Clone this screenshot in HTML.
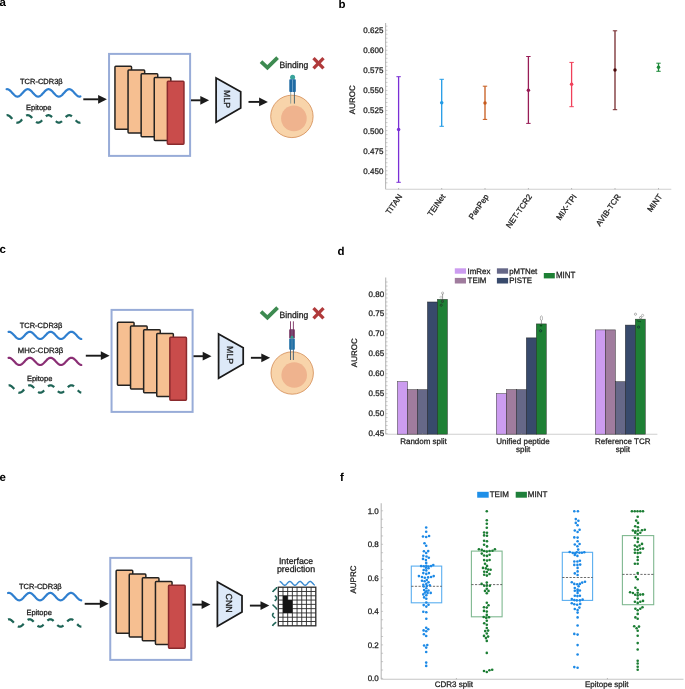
<!DOCTYPE html>
<html><head><meta charset="utf-8"><style>
html,body{margin:0;padding:0;background:#fff;width:685px;height:689px;overflow:hidden}
svg{display:block;font-family:"Liberation Sans", sans-serif;will-change:transform}
</style></head><body>
<svg width="685" height="689" viewBox="0 0 685 689" font-family='"Liberation Sans", sans-serif' text-rendering="geometricPrecision">
<rect width="685" height="689" fill="#ffffff"/>
<text x="-0.6" y="5.8" font-size="11.5" text-anchor="start" font-weight="bold" fill="#000" >a</text>
<text x="338.4" y="8.1" font-size="11.5" text-anchor="start" font-weight="bold" fill="#000" >b</text>
<text x="-0.6" y="252.9" font-size="11.5" text-anchor="start" font-weight="bold" fill="#000" >c</text>
<text x="337.6" y="255.1" font-size="11.5" text-anchor="start" font-weight="bold" fill="#000" >d</text>
<text x="-0.6" y="480.5" font-size="11.5" text-anchor="start" font-weight="bold" fill="#000" >e</text>
<text x="339.9" y="480.5" font-size="11.5" text-anchor="start" font-weight="bold" fill="#000" >f</text>
<text x="20" y="84.2" font-size="7.5" text-anchor="start" font-weight="normal" fill="#1a1a1a" stroke="#1a1a1a" stroke-width="0.28" >TCR-CDR3β</text>
<path d="M6.6,89.24 L6.85,89.21 L7.1,89.2 L7.35,89.21 L7.6,89.24 L7.85,89.29 L8.1,89.37 L8.35,89.46 L8.59,89.57 L8.84,89.71 L9.09,89.86 L9.34,90.02 L9.59,90.21 L9.84,90.41 L10.09,90.62 L10.34,90.85 L10.59,91.09 L10.84,91.34 L11.09,91.6 L11.34,91.86 L11.59,92.13 L11.84,92.41 L12.09,92.69 L12.33,92.97 L12.58,93.25 L12.83,93.52 L13.08,93.8 L13.33,94.07 L13.58,94.33 L13.83,94.58 L14.08,94.83 L14.33,95.06 L14.58,95.28 L14.83,95.49 L15.08,95.68 L15.33,95.86 L15.58,96.02 L15.83,96.16 L16.07,96.28 L16.32,96.39 L16.57,96.47 L16.82,96.53 L17.07,96.58 L17.32,96.6 L17.57,96.6 L17.82,96.58 L18.07,96.53 L18.32,96.47 L18.57,96.39 L18.82,96.29 L19.07,96.16 L19.32,96.02 L19.56,95.86 L19.81,95.69 L20.06,95.5 L20.31,95.29 L20.56,95.07 L20.81,94.84 L21.06,94.59 L21.31,94.34 L21.56,94.08 L21.81,93.81 L22.06,93.53 L22.31,93.26 L22.56,92.98 L22.81,92.7 L23.06,92.42 L23.3,92.14 L23.55,91.87 L23.8,91.6 L24.05,91.35 L24.3,91.1 L24.55,90.86 L24.8,90.63 L25.05,90.42 L25.3,90.22 L25.55,90.03 L25.8,89.86 L26.05,89.71 L26.3,89.58 L26.55,89.46 L26.8,89.37 L27.04,89.3 L27.29,89.24 L27.54,89.21 L27.79,89.2 L28.04,89.21 L28.29,89.24 L28.54,89.29 L28.79,89.37 L29.04,89.46 L29.29,89.57 L29.54,89.7 L29.79,89.85 L30.04,90.02 L30.29,90.2 L30.54,90.4 L30.78,90.62 L31.03,90.84 L31.28,91.08 L31.53,91.33 L31.78,91.59 L32.03,91.85 L32.28,92.13 L32.53,92.4 L32.78,92.68 L33.03,92.96 L33.28,93.24 L33.53,93.52 L33.78,93.79 L34.03,94.06 L34.28,94.32 L34.52,94.58 L34.77,94.82 L35.02,95.05 L35.27,95.28 L35.52,95.48 L35.77,95.68 L36.02,95.85 L36.27,96.01 L36.52,96.16 L36.77,96.28 L37.02,96.38 L37.27,96.47 L37.52,96.53 L37.77,96.57 L38.01,96.6 L38.26,96.6 L38.51,96.58 L38.76,96.54 L39.01,96.47 L39.26,96.39 L39.51,96.29 L39.76,96.17 L40.01,96.03 L40.26,95.87 L40.51,95.69 L40.76,95.5 L41.01,95.29 L41.26,95.07 L41.51,94.84 L41.75,94.6 L42,94.34 L42.25,94.08 L42.5,93.81 L42.75,93.54 L43,93.26 L43.25,92.98 L43.5,92.7 L43.75,92.42 L44,92.15 L44.25,91.88 L44.5,91.61 L44.75,91.35 L45,91.1 L45.25,90.86 L45.49,90.64 L45.74,90.42 L45.99,90.22 L46.24,90.04 L46.49,89.87 L46.74,89.71 L46.99,89.58 L47.24,89.47 L47.49,89.37 L47.74,89.3 L47.99,89.24 L48.24,89.21 L48.49,89.2 L48.74,89.21 L48.99,89.24 L49.23,89.29 L49.48,89.36 L49.73,89.46 L49.98,89.57 L50.23,89.7 L50.48,89.85 L50.73,90.02 L50.98,90.2 L51.23,90.4 L51.48,90.61 L51.73,90.84 L51.98,91.08 L52.23,91.32 L52.48,91.58 L52.73,91.85 L52.97,92.12 L53.22,92.39 L53.47,92.67 L53.72,92.95 L53.97,93.23 L54.22,93.51 L54.47,93.78 L54.72,94.05 L54.97,94.32 L55.22,94.57 L55.47,94.82 L55.72,95.05 L55.97,95.27 L56.22,95.48 L56.46,95.67 L56.71,95.85 L56.96,96.01 L57.21,96.15 L57.46,96.28 L57.71,96.38 L57.96,96.47 L58.21,96.53 L58.46,96.57 L58.71,96.6 L58.96,96.6 L59.21,96.58 L59.46,96.54 L59.71,96.48 L59.96,96.39 L60.2,96.29 L60.45,96.17 L60.7,96.03 L60.95,95.87 L61.2,95.7 L61.45,95.51 L61.7,95.3 L61.95,95.08 L62.2,94.85 L62.45,94.6 L62.7,94.35 L62.95,94.09 L63.2,93.82 L63.45,93.55 L63.7,93.27 L63.94,92.99 L64.19,92.71 L64.44,92.43 L64.69,92.16 L64.94,91.88 L65.19,91.62 L65.44,91.36 L65.69,91.11 L65.94,90.87 L66.19,90.64 L66.44,90.43 L66.69,90.23 L66.94,90.04 L67.19,89.87 L67.44,89.72 L67.68,89.58 L67.93,89.47 L68.18,89.37 L68.43,89.3 L68.68,89.25 L68.93,89.21 L69.18,89.2 L69.43,89.21 L69.68,89.24 L69.93,89.29 L70.18,89.36 L70.43,89.45 L70.68,89.57 L70.93,89.7 L71.18,89.85 L71.42,90.01 L71.67,90.19 L71.92,90.39 L72.17,90.61 L72.42,90.83 L72.67,91.07 L72.92,91.32 L73.17,91.58 L73.42,91.84 L73.67,92.11 L73.92,92.39 L74.17,92.67 L74.42,92.95 L74.67,93.23 L74.91,93.5 L75.16,93.78 L75.41,94.05 L75.66,94.31 L75.91,94.56 L76.16,94.81 L76.41,95.04 L76.66,95.27 L76.91,95.47 L77.16,95.67 L77.41,95.85 L77.66,96.01 L77.91,96.15 L78.16,96.27 L78.41,96.38 L78.65,96.46 L78.9,96.53 L79.15,96.57 L79.4,96.6 L79.65,96.6 L79.9,96.58 L80.15,96.54 L80.4,96.48" fill="none" stroke="#2f7fcf" stroke-width="2.2" stroke-linecap="round"/>
<text x="26" y="110.1" font-size="7.5" text-anchor="start" font-weight="normal" fill="#1a1a1a" stroke="#1a1a1a" stroke-width="0.28" >Epitope</text>
<path d="M6.6,115.24 L6.85,115.21 L7.1,115.2 L7.35,115.21 L7.6,115.24 L7.85,115.29 L8.1,115.37 L8.35,115.46 L8.59,115.57 L8.84,115.71 L9.09,115.86 L9.34,116.02 L9.59,116.21 L9.84,116.41 L10.09,116.62 L10.34,116.85 L10.59,117.09 L10.84,117.34 L11.09,117.6 L11.34,117.86 L11.59,118.13 L11.84,118.41 L12.09,118.69 L12.33,118.97 L12.58,119.25 L12.83,119.52 L13.08,119.8 L13.33,120.07 L13.58,120.33 L13.83,120.58 L14.08,120.83 L14.33,121.06 L14.58,121.28 L14.83,121.49 L15.08,121.68 L15.33,121.86 L15.58,122.02 L15.83,122.16 L16.07,122.28 L16.32,122.39 L16.57,122.47 L16.82,122.53 L17.07,122.58 L17.32,122.6 L17.57,122.6 L17.82,122.58 L18.07,122.53 L18.32,122.47 L18.57,122.39 L18.82,122.29 L19.07,122.16 L19.32,122.02 L19.56,121.86 L19.81,121.69 L20.06,121.5 L20.31,121.29 L20.56,121.07 L20.81,120.84 L21.06,120.59 L21.31,120.34 L21.56,120.08 L21.81,119.81 L22.06,119.53 L22.31,119.26 L22.56,118.98 L22.81,118.7 L23.06,118.42 L23.3,118.14 L23.55,117.87 L23.8,117.6 L24.05,117.35 L24.3,117.1 L24.55,116.86 L24.8,116.63 L25.05,116.42 L25.3,116.22 L25.55,116.03 L25.8,115.86 L26.05,115.71 L26.3,115.58 L26.55,115.46 L26.8,115.37 L27.04,115.3 L27.29,115.24 L27.54,115.21 L27.79,115.2 L28.04,115.21 L28.29,115.24 L28.54,115.29 L28.79,115.37 L29.04,115.46 L29.29,115.57 L29.54,115.7 L29.79,115.85 L30.04,116.02 L30.29,116.2 L30.54,116.4 L30.78,116.62 L31.03,116.84 L31.28,117.08 L31.53,117.33 L31.78,117.59 L32.03,117.85 L32.28,118.13 L32.53,118.4 L32.78,118.68 L33.03,118.96 L33.28,119.24 L33.53,119.52 L33.78,119.79 L34.03,120.06 L34.28,120.32 L34.52,120.58 L34.77,120.82 L35.02,121.05 L35.27,121.28 L35.52,121.48 L35.77,121.68 L36.02,121.85 L36.27,122.01 L36.52,122.16 L36.77,122.28 L37.02,122.38 L37.27,122.47 L37.52,122.53 L37.77,122.57 L38.01,122.6 L38.26,122.6 L38.51,122.58 L38.76,122.54 L39.01,122.47 L39.26,122.39 L39.51,122.29 L39.76,122.17 L40.01,122.03 L40.26,121.87 L40.51,121.69 L40.76,121.5 L41.01,121.29 L41.26,121.07 L41.51,120.84 L41.75,120.6 L42,120.34 L42.25,120.08 L42.5,119.81 L42.75,119.54 L43,119.26 L43.25,118.98 L43.5,118.7 L43.75,118.42 L44,118.15 L44.25,117.88 L44.5,117.61 L44.75,117.35 L45,117.1 L45.25,116.86 L45.49,116.64 L45.74,116.42 L45.99,116.22 L46.24,116.04 L46.49,115.87 L46.74,115.71 L46.99,115.58 L47.24,115.47 L47.49,115.37 L47.74,115.3 L47.99,115.24 L48.24,115.21 L48.49,115.2 L48.74,115.21 L48.99,115.24 L49.23,115.29 L49.48,115.36 L49.73,115.46 L49.98,115.57 L50.23,115.7 L50.48,115.85 L50.73,116.02 L50.98,116.2 L51.23,116.4 L51.48,116.61 L51.73,116.84 L51.98,117.08 L52.23,117.32 L52.48,117.58 L52.73,117.85 L52.97,118.12 L53.22,118.39 L53.47,118.67 L53.72,118.95 L53.97,119.23 L54.22,119.51 L54.47,119.78 L54.72,120.05 L54.97,120.32 L55.22,120.57 L55.47,120.82 L55.72,121.05 L55.97,121.27 L56.22,121.48 L56.46,121.67 L56.71,121.85 L56.96,122.01 L57.21,122.15 L57.46,122.28 L57.71,122.38 L57.96,122.47 L58.21,122.53 L58.46,122.57 L58.71,122.6 L58.96,122.6 L59.21,122.58 L59.46,122.54 L59.71,122.48 L59.96,122.39 L60.2,122.29 L60.45,122.17 L60.7,122.03 L60.95,121.87 L61.2,121.7 L61.45,121.51 L61.7,121.3 L61.95,121.08 L62.2,120.85 L62.45,120.6 L62.7,120.35 L62.95,120.09 L63.2,119.82 L63.45,119.55 L63.7,119.27 L63.94,118.99 L64.19,118.71 L64.44,118.43 L64.69,118.16 L64.94,117.88 L65.19,117.62 L65.44,117.36 L65.69,117.11 L65.94,116.87 L66.19,116.64 L66.44,116.43 L66.69,116.23 L66.94,116.04 L67.19,115.87 L67.44,115.72 L67.68,115.58 L67.93,115.47 L68.18,115.37 L68.43,115.3 L68.68,115.25 L68.93,115.21 L69.18,115.2 L69.43,115.21 L69.68,115.24 L69.93,115.29 L70.18,115.36 L70.43,115.45 L70.68,115.57 L70.93,115.7 L71.18,115.85 L71.42,116.01 L71.67,116.19 L71.92,116.39 L72.17,116.61 L72.42,116.83 L72.67,117.07 L72.92,117.32 L73.17,117.58 L73.42,117.84 L73.67,118.11 L73.92,118.39 L74.17,118.67 L74.42,118.95 L74.67,119.23 L74.91,119.5 L75.16,119.78 L75.41,120.05 L75.66,120.31 L75.91,120.56 L76.16,120.81 L76.41,121.04 L76.66,121.27 L76.91,121.47 L77.16,121.67 L77.41,121.85 L77.66,122.01 L77.91,122.15 L78.16,122.27 L78.41,122.38 L78.65,122.46 L78.9,122.53 L79.15,122.57 L79.4,122.6 L79.65,122.6 L79.9,122.58 L80.15,122.54 L80.4,122.48" fill="none" stroke="#1e6456" stroke-width="2.25" stroke-dasharray="7 5.5" stroke-linecap="butt"/>
<line x1="83.3" y1="99.3" x2="98.6" y2="99.3" stroke="#1a1a1a" stroke-width="1.9"/>
<polygon points="98.1,94.9 106.9,99.3 98.1,103.7" fill="#1a1a1a"/>
<rect x="109.05" y="53.9" width="81.05" height="102" fill="none" stroke="#98acd8" stroke-width="2"/>
<rect x="114.95" y="66.35" width="16.6" height="62.8" rx="0.8" fill="#f6bf91" stroke="#242220" stroke-width="1.5"/>
<rect x="128.05" y="70.1" width="16.6" height="62.8" rx="0.8" fill="#f6bf91" stroke="#242220" stroke-width="1.5"/>
<rect x="141.15" y="73.85" width="16.6" height="62.8" rx="0.8" fill="#f6bf91" stroke="#242220" stroke-width="1.5"/>
<rect x="154.25" y="77.6" width="16.6" height="62.8" rx="0.8" fill="#f6bf91" stroke="#242220" stroke-width="1.5"/>
<rect x="167.35" y="81.35" width="16.6" height="62.8" rx="0.8" fill="#c94c4b" stroke="#8a2a2d" stroke-width="1.5"/>
<line x1="191" y1="100.3" x2="200.8" y2="100.3" stroke="#1a1a1a" stroke-width="1.9"/>
<polygon points="200.3,95.9 209.1,100.3 200.3,104.7" fill="#1a1a1a"/>
<polygon points="216.1,78 240.7,91.8 240.7,107.9 216.1,122.2" fill="#dde9f8" stroke="#1a1a1a" stroke-width="1.75" stroke-linejoin="miter"/>
<text transform="translate(227.5,99.1) rotate(90)" x="0" y="3.2" font-size="8.8" text-anchor="middle" fill="#1a1a1a" stroke="#1a1a1a" stroke-width="0.28">MLP</text>
<line x1="248.5" y1="101.9" x2="259.6" y2="101.9" stroke="#1a1a1a" stroke-width="1.9"/>
<polygon points="259.1,97.5 267.9,101.9 259.1,106.3" fill="#1a1a1a"/>
<circle cx="291.9" cy="116.4" r="21.2" fill="#f8d4aa" stroke="#d38a52" stroke-width="0.8"/>
<circle cx="293.9" cy="118.4" r="12.8" fill="#efb38e"/>
<line x1="290.7" y1="90" x2="290.7" y2="103.6" stroke="#8a9c94" stroke-width="0.9"/>
<line x1="294.4" y1="90" x2="294.4" y2="103.6" stroke="#385868" stroke-width="0.9"/>
<circle cx="292.6" cy="77.2" r="2.5" fill="#3aa39b"/>
<rect x="289.3" y="79.3" width="6.5" height="12.7" rx="0.8" fill="#1f6aa3"/>
<line x1="292.55" y1="79.5" x2="292.55" y2="92" stroke="#8fb8d8" stroke-width="0.7"/>
<polyline points="261.0,61.7 267.4,67.6 277.6,57.7" fill="none" stroke="#3d8a50" stroke-width="3.8" stroke-linecap="butt" stroke-linejoin="miter"/>
<text x="279.6" y="67.6" font-size="9" fill="#1a1a1a" stroke="#1a1a1a" stroke-width="0.28" textLength="28.6" lengthAdjust="spacingAndGlyphs">Binding</text>
<g stroke="#b03a3b" stroke-width="3.3"><line x1="313.5" y1="58.2" x2="323.5" y2="68.4"/><line x1="323.5" y1="58.2" x2="313.5" y2="68.4"/></g>
<text x="19.7" y="328.1" font-size="7.5" text-anchor="start" font-weight="normal" fill="#1a1a1a" stroke="#1a1a1a" stroke-width="0.28" >TCR-CDR3β</text>
<path d="M8.6,331.83 L8.85,331.8 L9.1,331.8 L9.35,331.82 L9.6,331.86 L9.85,331.92 L10.1,332 L10.35,332.09 L10.6,332.21 L10.85,332.35 L11.1,332.5 L11.35,332.67 L11.6,332.85 L11.85,333.05 L12.1,333.26 L12.35,333.49 L12.6,333.72 L12.85,333.97 L13.1,334.22 L13.35,334.48 L13.6,334.75 L13.85,335.02 L14.1,335.29 L14.35,335.56 L14.6,335.83 L14.85,336.1 L15.1,336.36 L15.35,336.62 L15.6,336.87 L15.85,337.12 L16.09,337.35 L16.34,337.57 L16.59,337.78 L16.84,337.98 L17.09,338.16 L17.34,338.33 L17.59,338.48 L17.84,338.61 L18.09,338.72 L18.34,338.82 L18.59,338.89 L18.84,338.95 L19.09,338.98 L19.34,339 L19.59,338.99 L19.84,338.97 L20.09,338.92 L20.34,338.86 L20.59,338.77 L20.84,338.66 L21.09,338.54 L21.34,338.4 L21.59,338.24 L21.84,338.06 L22.09,337.87 L22.34,337.67 L22.59,337.45 L22.84,337.22 L23.09,336.99 L23.34,336.74 L23.59,336.48 L23.84,336.22 L24.09,335.95 L24.34,335.68 L24.59,335.41 L24.84,335.14 L25.09,334.87 L25.34,334.6 L25.59,334.34 L25.84,334.08 L26.09,333.84 L26.34,333.6 L26.59,333.37 L26.84,333.15 L27.09,332.94 L27.34,332.75 L27.59,332.57 L27.84,332.41 L28.09,332.27 L28.34,332.15 L28.59,332.04 L28.84,331.95 L29.09,331.88 L29.34,331.84 L29.59,331.81 L29.84,331.8 L30.09,331.81 L30.34,331.85 L30.58,331.9 L30.83,331.97 L31.08,332.07 L31.33,332.18 L31.58,332.31 L31.83,332.46 L32.08,332.62 L32.33,332.8 L32.58,333 L32.83,333.21 L33.08,333.43 L33.33,333.66 L33.58,333.91 L33.83,334.16 L34.08,334.41 L34.33,334.68 L34.58,334.95 L34.83,335.22 L35.08,335.49 L35.33,335.76 L35.58,336.03 L35.83,336.29 L36.08,336.55 L36.33,336.81 L36.58,337.05 L36.83,337.29 L37.08,337.52 L37.33,337.73 L37.58,337.93 L37.83,338.12 L38.08,338.29 L38.33,338.44 L38.58,338.58 L38.83,338.7 L39.08,338.8 L39.33,338.88 L39.58,338.94 L39.83,338.98 L40.08,339 L40.33,339 L40.58,338.98 L40.83,338.94 L41.08,338.87 L41.33,338.79 L41.58,338.69 L41.83,338.57 L42.08,338.44 L42.33,338.28 L42.58,338.11 L42.83,337.93 L43.08,337.72 L43.33,337.51 L43.58,337.28 L43.83,337.05 L44.08,336.8 L44.33,336.55 L44.58,336.29 L44.83,336.02 L45.07,335.75 L45.32,335.48 L45.57,335.21 L45.82,334.94 L46.07,334.67 L46.32,334.41 L46.57,334.15 L46.82,333.9 L47.07,333.66 L47.32,333.42 L47.57,333.2 L47.82,332.99 L48.07,332.8 L48.32,332.62 L48.57,332.45 L48.82,332.31 L49.07,332.18 L49.32,332.06 L49.57,331.97 L49.82,331.9 L50.07,331.85 L50.32,331.81 L50.57,331.8 L50.82,331.81 L51.07,331.84 L51.32,331.88 L51.57,331.95 L51.82,332.04 L52.07,332.15 L52.32,332.28 L52.57,332.42 L52.82,332.58 L53.07,332.76 L53.32,332.95 L53.57,333.15 L53.82,333.37 L54.07,333.6 L54.32,333.84 L54.57,334.09 L54.82,334.35 L55.07,334.61 L55.32,334.88 L55.57,335.15 L55.82,335.42 L56.07,335.69 L56.32,335.96 L56.57,336.23 L56.82,336.49 L57.07,336.74 L57.32,336.99 L57.57,337.23 L57.82,337.46 L58.07,337.68 L58.32,337.88 L58.57,338.07 L58.82,338.24 L59.07,338.4 L59.32,338.54 L59.56,338.67 L59.81,338.77 L60.06,338.86 L60.31,338.92 L60.56,338.97 L60.81,338.99 L61.06,339 L61.31,338.98 L61.56,338.95 L61.81,338.89 L62.06,338.82 L62.31,338.72 L62.56,338.61 L62.81,338.47 L63.06,338.32 L63.31,338.16 L63.56,337.97 L63.81,337.78 L64.06,337.57 L64.31,337.34 L64.56,337.11 L64.81,336.87 L65.06,336.61 L65.31,336.36 L65.56,336.09 L65.81,335.82 L66.06,335.55 L66.31,335.28 L66.56,335.01 L66.81,334.74 L67.06,334.48 L67.31,334.22 L67.56,333.96 L67.81,333.72 L68.06,333.48 L68.31,333.26 L68.56,333.05 L68.81,332.85 L69.06,332.66 L69.31,332.5 L69.56,332.34 L69.81,332.21 L70.06,332.09 L70.31,331.99 L70.56,331.92 L70.81,331.86 L71.06,331.82 L71.31,331.8 L71.56,331.8 L71.81,331.83 L72.06,331.87 L72.31,331.93 L72.56,332.02 L72.81,332.12 L73.06,332.24 L73.31,332.38 L73.56,332.54 L73.81,332.71 L74.05,332.9 L74.3,333.1 L74.55,333.31 L74.8,333.54 L75.05,333.78 L75.3,334.03 L75.55,334.28 L75.8,334.54 L76.05,334.81 L76.3,335.08 L76.55,335.35 L76.8,335.62 L77.05,335.89 L77.3,336.16 L77.55,336.42 L77.8,336.68 L78.05,336.93 L78.3,337.17 L78.55,337.4 L78.8,337.62 L79.05,337.83 L79.3,338.02 L79.55,338.2 L79.8,338.36 L80.05,338.51 L80.3,338.64 L80.55,338.75 L80.8,338.84 L81.05,338.91 L81.3,338.96" fill="none" stroke="#2f7fcf" stroke-width="2.2" stroke-linecap="round"/>
<text x="17.8" y="353.4" font-size="7.6" text-anchor="start" font-weight="normal" fill="#1a1a1a" stroke="#1a1a1a" stroke-width="0.28" textLength="45.4" lengthAdjust="spacingAndGlyphs">MHC-CDR3β</text>
<path d="M8.6,357.83 L8.85,357.8 L9.1,357.8 L9.35,357.82 L9.6,357.86 L9.85,357.92 L10.1,358 L10.35,358.09 L10.6,358.21 L10.85,358.35 L11.1,358.5 L11.35,358.67 L11.6,358.85 L11.85,359.05 L12.1,359.26 L12.35,359.49 L12.6,359.72 L12.85,359.97 L13.1,360.22 L13.35,360.48 L13.6,360.75 L13.85,361.02 L14.1,361.29 L14.35,361.56 L14.6,361.83 L14.85,362.1 L15.1,362.36 L15.35,362.62 L15.6,362.87 L15.85,363.12 L16.09,363.35 L16.34,363.57 L16.59,363.78 L16.84,363.98 L17.09,364.16 L17.34,364.33 L17.59,364.48 L17.84,364.61 L18.09,364.72 L18.34,364.82 L18.59,364.89 L18.84,364.95 L19.09,364.98 L19.34,365 L19.59,364.99 L19.84,364.97 L20.09,364.92 L20.34,364.86 L20.59,364.77 L20.84,364.66 L21.09,364.54 L21.34,364.4 L21.59,364.24 L21.84,364.06 L22.09,363.87 L22.34,363.67 L22.59,363.45 L22.84,363.22 L23.09,362.99 L23.34,362.74 L23.59,362.48 L23.84,362.22 L24.09,361.95 L24.34,361.68 L24.59,361.41 L24.84,361.14 L25.09,360.87 L25.34,360.6 L25.59,360.34 L25.84,360.08 L26.09,359.84 L26.34,359.6 L26.59,359.37 L26.84,359.15 L27.09,358.94 L27.34,358.75 L27.59,358.57 L27.84,358.41 L28.09,358.27 L28.34,358.15 L28.59,358.04 L28.84,357.95 L29.09,357.88 L29.34,357.84 L29.59,357.81 L29.84,357.8 L30.09,357.81 L30.34,357.85 L30.58,357.9 L30.83,357.97 L31.08,358.07 L31.33,358.18 L31.58,358.31 L31.83,358.46 L32.08,358.62 L32.33,358.8 L32.58,359 L32.83,359.21 L33.08,359.43 L33.33,359.66 L33.58,359.91 L33.83,360.16 L34.08,360.41 L34.33,360.68 L34.58,360.95 L34.83,361.22 L35.08,361.49 L35.33,361.76 L35.58,362.03 L35.83,362.29 L36.08,362.55 L36.33,362.81 L36.58,363.05 L36.83,363.29 L37.08,363.52 L37.33,363.73 L37.58,363.93 L37.83,364.12 L38.08,364.29 L38.33,364.44 L38.58,364.58 L38.83,364.7 L39.08,364.8 L39.33,364.88 L39.58,364.94 L39.83,364.98 L40.08,365 L40.33,365 L40.58,364.98 L40.83,364.94 L41.08,364.87 L41.33,364.79 L41.58,364.69 L41.83,364.57 L42.08,364.44 L42.33,364.28 L42.58,364.11 L42.83,363.93 L43.08,363.72 L43.33,363.51 L43.58,363.28 L43.83,363.05 L44.08,362.8 L44.33,362.55 L44.58,362.29 L44.83,362.02 L45.07,361.75 L45.32,361.48 L45.57,361.21 L45.82,360.94 L46.07,360.67 L46.32,360.41 L46.57,360.15 L46.82,359.9 L47.07,359.66 L47.32,359.42 L47.57,359.2 L47.82,358.99 L48.07,358.8 L48.32,358.62 L48.57,358.45 L48.82,358.31 L49.07,358.18 L49.32,358.06 L49.57,357.97 L49.82,357.9 L50.07,357.85 L50.32,357.81 L50.57,357.8 L50.82,357.81 L51.07,357.84 L51.32,357.88 L51.57,357.95 L51.82,358.04 L52.07,358.15 L52.32,358.28 L52.57,358.42 L52.82,358.58 L53.07,358.76 L53.32,358.95 L53.57,359.15 L53.82,359.37 L54.07,359.6 L54.32,359.84 L54.57,360.09 L54.82,360.35 L55.07,360.61 L55.32,360.88 L55.57,361.15 L55.82,361.42 L56.07,361.69 L56.32,361.96 L56.57,362.23 L56.82,362.49 L57.07,362.74 L57.32,362.99 L57.57,363.23 L57.82,363.46 L58.07,363.68 L58.32,363.88 L58.57,364.07 L58.82,364.24 L59.07,364.4 L59.32,364.54 L59.56,364.67 L59.81,364.77 L60.06,364.86 L60.31,364.92 L60.56,364.97 L60.81,364.99 L61.06,365 L61.31,364.98 L61.56,364.95 L61.81,364.89 L62.06,364.82 L62.31,364.72 L62.56,364.61 L62.81,364.47 L63.06,364.32 L63.31,364.16 L63.56,363.97 L63.81,363.78 L64.06,363.57 L64.31,363.34 L64.56,363.11 L64.81,362.87 L65.06,362.61 L65.31,362.36 L65.56,362.09 L65.81,361.82 L66.06,361.55 L66.31,361.28 L66.56,361.01 L66.81,360.74 L67.06,360.48 L67.31,360.22 L67.56,359.96 L67.81,359.72 L68.06,359.48 L68.31,359.26 L68.56,359.05 L68.81,358.85 L69.06,358.66 L69.31,358.5 L69.56,358.34 L69.81,358.21 L70.06,358.09 L70.31,357.99 L70.56,357.92 L70.81,357.86 L71.06,357.82 L71.31,357.8 L71.56,357.8 L71.81,357.83 L72.06,357.87 L72.31,357.93 L72.56,358.02 L72.81,358.12 L73.06,358.24 L73.31,358.38 L73.56,358.54 L73.81,358.71 L74.05,358.9 L74.3,359.1 L74.55,359.31 L74.8,359.54 L75.05,359.78 L75.3,360.03 L75.55,360.28 L75.8,360.54 L76.05,360.81 L76.3,361.08 L76.55,361.35 L76.8,361.62 L77.05,361.89 L77.3,362.16 L77.55,362.42 L77.8,362.68 L78.05,362.93 L78.3,363.17 L78.55,363.4 L78.8,363.62 L79.05,363.83 L79.3,364.02 L79.55,364.2 L79.8,364.36 L80.05,364.51 L80.3,364.64 L80.55,364.75 L80.8,364.84 L81.05,364.91 L81.3,364.96" fill="none" stroke="#8a2e74" stroke-width="2.2" stroke-linecap="round"/>
<text x="26.9" y="380.7" font-size="7.5" text-anchor="start" font-weight="normal" fill="#1a1a1a" stroke="#1a1a1a" stroke-width="0.28" >Epitope</text>
<path d="M8.6,385.33 L8.85,385.3 L9.1,385.3 L9.35,385.32 L9.6,385.36 L9.85,385.42 L10.1,385.5 L10.35,385.6 L10.6,385.72 L10.85,385.86 L11.1,386.02 L11.35,386.19 L11.6,386.38 L11.85,386.59 L12.1,386.8 L12.35,387.04 L12.6,387.28 L12.85,387.53 L13.1,387.79 L13.35,388.06 L13.6,388.33 L13.85,388.61 L14.1,388.88 L14.35,389.16 L14.6,389.44 L14.85,389.72 L15.1,389.99 L15.35,390.25 L15.6,390.51 L15.85,390.76 L16.09,391 L16.34,391.23 L16.59,391.45 L16.84,391.65 L17.09,391.84 L17.34,392.01 L17.59,392.16 L17.84,392.3 L18.09,392.42 L18.34,392.51 L18.59,392.59 L18.84,392.65 L19.09,392.68 L19.34,392.7 L19.59,392.69 L19.84,392.67 L20.09,392.62 L20.34,392.55 L20.59,392.46 L20.84,392.35 L21.09,392.23 L21.34,392.08 L21.59,391.92 L21.84,391.74 L22.09,391.54 L22.34,391.33 L22.59,391.11 L22.84,390.88 L23.09,390.63 L23.34,390.37 L23.59,390.11 L23.84,389.84 L24.09,389.57 L24.34,389.29 L24.59,389.01 L24.84,388.73 L25.09,388.46 L25.34,388.18 L25.59,387.91 L25.84,387.65 L26.09,387.39 L26.34,387.15 L26.59,386.91 L26.84,386.69 L27.09,386.47 L27.34,386.28 L27.59,386.1 L27.84,385.93 L28.09,385.78 L28.34,385.66 L28.59,385.55 L28.84,385.46 L29.09,385.39 L29.34,385.34 L29.59,385.31 L29.84,385.3 L30.09,385.31 L30.34,385.35 L30.58,385.4 L30.83,385.48 L31.08,385.58 L31.33,385.69 L31.58,385.82 L31.83,385.98 L32.08,386.15 L32.33,386.33 L32.58,386.53 L32.83,386.75 L33.08,386.98 L33.33,387.21 L33.58,387.46 L33.83,387.72 L34.08,387.99 L34.33,388.26 L34.58,388.53 L34.83,388.81 L35.08,389.09 L35.33,389.37 L35.58,389.65 L35.83,389.92 L36.08,390.19 L36.33,390.45 L36.58,390.7 L36.83,390.94 L37.08,391.18 L37.33,391.39 L37.58,391.6 L37.83,391.79 L38.08,391.97 L38.33,392.12 L38.58,392.27 L38.83,392.39 L39.08,392.49 L39.33,392.57 L39.58,392.64 L39.83,392.68 L40.08,392.7 L40.33,392.7 L40.58,392.68 L40.83,392.63 L41.08,392.57 L41.33,392.49 L41.58,392.38 L41.83,392.26 L42.08,392.12 L42.33,391.96 L42.58,391.79 L42.83,391.6 L43.08,391.39 L43.33,391.17 L43.58,390.94 L43.83,390.69 L44.08,390.44 L44.33,390.18 L44.58,389.91 L44.83,389.64 L45.07,389.36 L45.32,389.08 L45.57,388.8 L45.82,388.53 L46.07,388.25 L46.32,387.98 L46.57,387.72 L46.82,387.46 L47.07,387.21 L47.32,386.97 L47.57,386.74 L47.82,386.53 L48.07,386.33 L48.32,386.14 L48.57,385.97 L48.82,385.82 L49.07,385.69 L49.32,385.57 L49.57,385.48 L49.82,385.4 L50.07,385.35 L50.32,385.31 L50.57,385.3 L50.82,385.31 L51.07,385.34 L51.32,385.39 L51.57,385.46 L51.82,385.55 L52.07,385.66 L52.32,385.79 L52.57,385.94 L52.82,386.1 L53.07,386.28 L53.32,386.48 L53.57,386.69 L53.82,386.92 L54.07,387.15 L54.32,387.4 L54.57,387.65 L54.82,387.92 L55.07,388.19 L55.32,388.46 L55.57,388.74 L55.82,389.02 L56.07,389.3 L56.32,389.58 L56.57,389.85 L56.82,390.12 L57.07,390.38 L57.32,390.64 L57.57,390.88 L57.82,391.12 L58.07,391.34 L58.32,391.55 L58.57,391.74 L58.82,391.92 L59.07,392.09 L59.32,392.23 L59.56,392.36 L59.81,392.47 L60.06,392.55 L60.31,392.62 L60.56,392.67 L60.81,392.69 L61.06,392.7 L61.31,392.68 L61.56,392.65 L61.81,392.59 L62.06,392.51 L62.31,392.41 L62.56,392.3 L62.81,392.16 L63.06,392 L63.31,391.83 L63.56,391.65 L63.81,391.44 L64.06,391.23 L64.31,391 L64.56,390.76 L64.81,390.51 L65.06,390.25 L65.31,389.98 L65.56,389.71 L65.81,389.43 L66.06,389.16 L66.31,388.88 L66.56,388.6 L66.81,388.32 L67.06,388.05 L67.31,387.78 L67.56,387.52 L67.81,387.27 L68.06,387.03 L68.31,386.8 L68.56,386.58 L68.81,386.38 L69.06,386.19 L69.31,386.01 L69.56,385.86 L69.81,385.72 L70.06,385.6 L70.31,385.5 L70.56,385.42 L70.81,385.36 L71.06,385.32 L71.31,385.3 L71.56,385.3 L71.81,385.33 L72.06,385.37 L72.31,385.44 L72.56,385.52 L72.81,385.63 L73.06,385.75 L73.31,385.9 L73.56,386.06 L73.81,386.23 L74.05,386.43 L74.3,386.64 L74.55,386.86 L74.8,387.09 L75.05,387.33 L75.3,387.59 L75.55,387.85 L75.8,388.12 L76.05,388.39 L76.3,388.67 L76.55,388.95 L76.8,389.23 L77.05,389.5 L77.3,389.78 L77.55,390.05 L77.8,390.31 L78.05,390.57 L78.3,390.82 L78.55,391.06 L78.8,391.28 L79.05,391.5 L79.3,391.7 L79.55,391.88 L79.8,392.05 L80.05,392.2 L80.3,392.33 L80.55,392.44 L80.8,392.53 L81.05,392.61 L81.3,392.66" fill="none" stroke="#1e6456" stroke-width="2.25" stroke-dasharray="7 5.5" stroke-linecap="butt"/>
<line x1="85.8" y1="355.7" x2="101.3" y2="355.7" stroke="#1a1a1a" stroke-width="1.9"/>
<polygon points="100.8,351.3 109.6,355.7 100.8,360.1" fill="#1a1a1a"/>
<rect x="111.55" y="309.9" width="81.05" height="102" fill="none" stroke="#98acd8" stroke-width="2"/>
<rect x="117.45" y="322.35" width="16.6" height="62.8" rx="0.8" fill="#f6bf91" stroke="#242220" stroke-width="1.5"/>
<rect x="130.55" y="326.1" width="16.6" height="62.8" rx="0.8" fill="#f6bf91" stroke="#242220" stroke-width="1.5"/>
<rect x="143.65" y="329.85" width="16.6" height="62.8" rx="0.8" fill="#f6bf91" stroke="#242220" stroke-width="1.5"/>
<rect x="156.75" y="333.6" width="16.6" height="62.8" rx="0.8" fill="#f6bf91" stroke="#242220" stroke-width="1.5"/>
<rect x="169.85" y="337.35" width="16.6" height="62.8" rx="0.8" fill="#c94c4b" stroke="#8a2a2d" stroke-width="1.5"/>
<line x1="193.5" y1="356.2" x2="203.2" y2="356.2" stroke="#1a1a1a" stroke-width="1.9"/>
<polygon points="202.7,351.8 211.5,356.2 202.7,360.6" fill="#1a1a1a"/>
<polygon points="218.6,334 243.2,347.8 243.2,363.9 218.6,378.2" fill="#dde9f8" stroke="#1a1a1a" stroke-width="1.75" stroke-linejoin="miter"/>
<text transform="translate(230,355.1) rotate(90)" x="0" y="3.2" font-size="8.8" text-anchor="middle" fill="#1a1a1a" stroke="#1a1a1a" stroke-width="0.28">MLP</text>
<line x1="250.9" y1="357.8" x2="261.8" y2="357.8" stroke="#1a1a1a" stroke-width="1.9"/>
<polygon points="261.3,353.4 270.1,357.8 261.3,362.2" fill="#1a1a1a"/>
<circle cx="292.2" cy="373" r="21.2" fill="#f8d4aa" stroke="#d38a52" stroke-width="0.8"/>
<circle cx="294.2" cy="375" r="12.8" fill="#efb38e"/>
<line x1="290.5" y1="321.3" x2="290.5" y2="330" stroke="#7a3062" stroke-width="0.9"/>
<line x1="293.4" y1="321.3" x2="293.4" y2="330" stroke="#7a3062" stroke-width="0.9"/>
<line x1="290.5" y1="349" x2="290.5" y2="360" stroke="#3c5a70" stroke-width="0.9"/>
<line x1="293.4" y1="349" x2="293.4" y2="360" stroke="#3c5a70" stroke-width="0.9"/>
<rect x="289.2" y="329.2" width="5.6" height="9.3" rx="0.8" fill="#72305e"/>
<rect x="289.2" y="338.6" width="5.6" height="11.1" rx="0.8" fill="#1f6fa5"/>
<line x1="292" y1="329.5" x2="292" y2="349.5" stroke="#9ab0c8" stroke-width="0.6" stroke-opacity="0.7"/>
<circle cx="292" cy="337.2" r="1.4" fill="#2fa08f"/>
<polyline points="261.0,311.7 267.4,317.6 277.6,307.7" fill="none" stroke="#3d8a50" stroke-width="3.8" stroke-linecap="butt" stroke-linejoin="miter"/>
<text x="279.6" y="317.6" font-size="9" fill="#1a1a1a" stroke="#1a1a1a" stroke-width="0.28" textLength="28.6" lengthAdjust="spacingAndGlyphs">Binding</text>
<g stroke="#b03a3b" stroke-width="3.3"><line x1="313.5" y1="308.2" x2="323.5" y2="318.4"/><line x1="323.5" y1="308.2" x2="313.5" y2="318.4"/></g>
<text x="19" y="588.6" font-size="7.5" text-anchor="start" font-weight="normal" fill="#1a1a1a" stroke="#1a1a1a" stroke-width="0.28" >TCR-CDR3β</text>
<path d="M8,593.04 L8.25,592.97 L8.5,592.93 L8.75,592.9 L9,592.9 L9.25,592.92 L9.5,592.96 L9.75,593.02 L10,593.1 L10.25,593.21 L10.5,593.33 L10.75,593.47 L11,593.63 L11.25,593.8 L11.5,593.99 L11.75,594.2 L12,594.42 L12.25,594.65 L12.5,594.89 L12.75,595.15 L13,595.41 L13.25,595.68 L13.5,595.95 L13.75,596.23 L14,596.51 L14.25,596.79 L14.5,597.07 L14.75,597.35 L15,597.62 L15.25,597.89 L15.49,598.15 L15.74,598.4 L15.99,598.64 L16.24,598.86 L16.49,599.08 L16.74,599.28 L16.99,599.47 L17.24,599.63 L17.49,599.79 L17.74,599.92 L17.99,600.03 L18.24,600.13 L18.49,600.2 L18.74,600.26 L18.99,600.29 L19.24,600.3 L19.49,600.29 L19.74,600.26 L19.99,600.21 L20.24,600.13 L20.49,600.04 L20.74,599.93 L20.99,599.8 L21.24,599.64 L21.49,599.48 L21.74,599.29 L21.99,599.09 L22.24,598.88 L22.49,598.65 L22.74,598.41 L22.99,598.16 L23.24,597.9 L23.49,597.64 L23.74,597.36 L23.99,597.09 L24.24,596.81 L24.49,596.53 L24.74,596.25 L24.99,595.97 L25.24,595.7 L25.49,595.43 L25.74,595.16 L25.99,594.91 L26.24,594.67 L26.49,594.43 L26.74,594.21 L26.99,594 L27.24,593.81 L27.49,593.64 L27.74,593.48 L27.99,593.34 L28.24,593.21 L28.49,593.11 L28.74,593.03 L28.99,592.96 L29.24,592.92 L29.49,592.9 L29.74,592.9 L29.98,592.93 L30.23,592.97 L30.48,593.03 L30.73,593.12 L30.98,593.22 L31.23,593.35 L31.48,593.49 L31.73,593.65 L31.98,593.83 L32.23,594.02 L32.48,594.23 L32.73,594.45 L32.98,594.69 L33.23,594.93 L33.48,595.19 L33.73,595.45 L33.98,595.72 L34.23,595.99 L34.48,596.27 L34.73,596.55 L34.98,596.83 L35.23,597.11 L35.48,597.39 L35.73,597.66 L35.98,597.92 L36.23,598.18 L36.48,598.43 L36.73,598.67 L36.98,598.9 L37.23,599.11 L37.48,599.31 L37.73,599.49 L37.98,599.66 L38.23,599.81 L38.48,599.94 L38.73,600.05 L38.98,600.14 L39.23,600.21 L39.48,600.26 L39.73,600.29 L39.98,600.3 L40.23,600.29 L40.48,600.25 L40.73,600.2 L40.98,600.12 L41.23,600.03 L41.48,599.91 L41.73,599.77 L41.98,599.62 L42.23,599.45 L42.48,599.26 L42.73,599.06 L42.98,598.85 L43.23,598.62 L43.48,598.38 L43.73,598.12 L43.98,597.87 L44.23,597.6 L44.48,597.33 L44.72,597.05 L44.97,596.77 L45.22,596.49 L45.47,596.21 L45.72,595.93 L45.97,595.66 L46.22,595.39 L46.47,595.13 L46.72,594.87 L46.97,594.63 L47.22,594.4 L47.47,594.18 L47.72,593.98 L47.97,593.79 L48.22,593.61 L48.47,593.45 L48.72,593.32 L48.97,593.2 L49.22,593.1 L49.47,593.02 L49.72,592.96 L49.97,592.92 L50.22,592.9 L50.47,592.9 L50.72,592.93 L50.97,592.98 L51.22,593.04 L51.47,593.13 L51.72,593.24 L51.97,593.37 L52.22,593.51 L52.47,593.67 L52.72,593.85 L52.97,594.05 L53.22,594.26 L53.47,594.48 L53.72,594.72 L53.97,594.97 L54.22,595.22 L54.47,595.49 L54.72,595.76 L54.97,596.03 L55.22,596.31 L55.47,596.59 L55.72,596.87 L55.97,597.15 L56.22,597.43 L56.47,597.7 L56.72,597.96 L56.97,598.22 L57.22,598.47 L57.47,598.7 L57.72,598.93 L57.97,599.14 L58.22,599.34 L58.47,599.52 L58.72,599.68 L58.97,599.83 L59.22,599.95 L59.46,600.06 L59.71,600.15 L59.96,600.22 L60.21,600.27 L60.46,600.29 L60.71,600.3 L60.96,600.28 L61.21,600.25 L61.46,600.19 L61.71,600.11 L61.96,600.01 L62.21,599.89 L62.46,599.75 L62.71,599.6 L62.96,599.43 L63.21,599.24 L63.46,599.03 L63.71,598.81 L63.96,598.58 L64.21,598.34 L64.46,598.09 L64.71,597.83 L64.96,597.56 L65.21,597.29 L65.46,597.01 L65.71,596.73 L65.96,596.45 L66.21,596.17 L66.46,595.89 L66.71,595.62 L66.96,595.35 L67.21,595.09 L67.46,594.84 L67.71,594.6 L67.96,594.37 L68.21,594.15 L68.46,593.95 L68.71,593.76 L68.96,593.59 L69.21,593.43 L69.46,593.3 L69.71,593.18 L69.96,593.08 L70.21,593.01 L70.46,592.95 L70.71,592.91 L70.96,592.9 L71.21,592.91 L71.46,592.94 L71.71,592.98 L71.96,593.05 L72.21,593.15 L72.46,593.26 L72.71,593.38 L72.96,593.53 L73.21,593.7 L73.46,593.88 L73.71,594.08 L73.95,594.29 L74.2,594.52 L74.45,594.75 L74.7,595 L74.95,595.26 L75.2,595.53 L75.45,595.8 L75.7,596.07 L75.95,596.35 L76.2,596.63 L76.45,596.91 L76.7,597.19 L76.95,597.47 L77.2,597.74 L77.45,598 L77.7,598.25 L77.95,598.5 L78.2,598.74 L78.45,598.96 L78.7,599.17 L78.95,599.36 L79.2,599.54 L79.45,599.7 L79.7,599.85 L79.95,599.97 L80.2,600.08 L80.45,600.16 L80.7,600.23 L80.95,600.27 L81.2,600.3" fill="none" stroke="#2f7fcf" stroke-width="2.2" stroke-linecap="round"/>
<text x="26.4" y="614.6" font-size="7.5" text-anchor="start" font-weight="normal" fill="#1a1a1a" stroke="#1a1a1a" stroke-width="0.28" >Epitope</text>
<path d="M8,619.44 L8.25,619.37 L8.5,619.33 L8.75,619.3 L9,619.3 L9.25,619.32 L9.5,619.36 L9.75,619.42 L10,619.5 L10.25,619.6 L10.5,619.73 L10.75,619.87 L11,620.02 L11.25,620.2 L11.5,620.39 L11.74,620.6 L11.99,620.82 L12.24,621.05 L12.49,621.29 L12.74,621.55 L12.99,621.81 L13.24,622.08 L13.49,622.35 L13.74,622.63 L13.99,622.91 L14.24,623.19 L14.49,623.47 L14.74,623.74 L14.99,624.01 L15.24,624.28 L15.49,624.54 L15.74,624.79 L15.99,625.03 L16.24,625.26 L16.49,625.47 L16.74,625.68 L16.99,625.86 L17.24,626.03 L17.49,626.18 L17.74,626.32 L17.99,626.43 L18.24,626.53 L18.49,626.6 L18.74,626.65 L18.99,626.69 L19.23,626.7 L19.48,626.69 L19.73,626.66 L19.98,626.61 L20.23,626.54 L20.48,626.44 L20.73,626.33 L20.98,626.2 L21.23,626.05 L21.48,625.88 L21.73,625.7 L21.98,625.5 L22.23,625.29 L22.48,625.06 L22.73,624.82 L22.98,624.57 L23.23,624.31 L23.48,624.05 L23.73,623.78 L23.98,623.5 L24.23,623.22 L24.48,622.94 L24.73,622.66 L24.98,622.38 L25.23,622.11 L25.48,621.84 L25.73,621.58 L25.98,621.32 L26.23,621.08 L26.47,620.84 L26.72,620.62 L26.97,620.41 L27.22,620.22 L27.47,620.04 L27.72,619.88 L27.97,619.74 L28.22,619.62 L28.47,619.51 L28.72,619.43 L28.97,619.37 L29.22,619.32 L29.47,619.3 L29.72,619.3 L29.97,619.32 L30.22,619.37 L30.47,619.43 L30.72,619.51 L30.97,619.61 L31.22,619.74 L31.47,619.88 L31.72,620.04 L31.97,620.21 L32.22,620.41 L32.47,620.61 L32.72,620.84 L32.97,621.07 L33.22,621.31 L33.47,621.57 L33.71,621.83 L33.96,622.1 L34.21,622.37 L34.46,622.65 L34.71,622.93 L34.96,623.21 L35.21,623.49 L35.46,623.77 L35.71,624.04 L35.96,624.3 L36.21,624.56 L36.46,624.81 L36.71,625.05 L36.96,625.28 L37.21,625.49 L37.46,625.69 L37.71,625.88 L37.96,626.04 L38.21,626.2 L38.46,626.33 L38.71,626.44 L38.96,626.53 L39.21,626.61 L39.46,626.66 L39.71,626.69 L39.96,626.7 L40.21,626.69 L40.46,626.66 L40.71,626.6 L40.96,626.53 L41.2,626.43 L41.45,626.32 L41.7,626.19 L41.95,626.04 L42.2,625.87 L42.45,625.68 L42.7,625.48 L42.95,625.27 L43.2,625.04 L43.45,624.8 L43.7,624.55 L43.95,624.29 L44.2,624.02 L44.45,623.75 L44.7,623.48 L44.95,623.2 L45.2,622.92 L45.45,622.64 L45.7,622.36 L45.95,622.08 L46.2,621.82 L46.45,621.55 L46.7,621.3 L46.95,621.06 L47.2,620.82 L47.45,620.6 L47.7,620.4 L47.95,620.21 L48.2,620.03 L48.44,619.87 L48.69,619.73 L48.94,619.61 L49.19,619.51 L49.44,619.42 L49.69,619.36 L49.94,619.32 L50.19,619.3 L50.44,619.3 L50.69,619.33 L50.94,619.37 L51.19,619.43 L51.44,619.52 L51.69,619.62 L51.94,619.75 L52.19,619.89 L52.44,620.05 L52.69,620.23 L52.94,620.42 L53.19,620.63 L53.44,620.86 L53.69,621.09 L53.94,621.34 L54.19,621.59 L54.44,621.85 L54.69,622.12 L54.94,622.4 L55.19,622.68 L55.44,622.96 L55.69,623.24 L55.93,623.51 L56.18,623.79 L56.43,624.06 L56.68,624.33 L56.93,624.58 L57.18,624.83 L57.43,625.07 L57.68,625.3 L57.93,625.51 L58.18,625.71 L58.43,625.89 L58.68,626.06 L58.93,626.21 L59.18,626.34 L59.43,626.45 L59.68,626.54 L59.93,626.61 L60.18,626.66 L60.43,626.69 L60.68,626.7 L60.93,626.69 L61.18,626.65 L61.43,626.6 L61.68,626.52 L61.93,626.43 L62.18,626.31 L62.43,626.18 L62.68,626.02 L62.93,625.85 L63.17,625.67 L63.42,625.46 L63.67,625.25 L63.92,625.02 L64.17,624.78 L64.42,624.53 L64.67,624.27 L64.92,624 L65.17,623.73 L65.42,623.45 L65.67,623.17 L65.92,622.89 L66.17,622.61 L66.42,622.33 L66.67,622.06 L66.92,621.79 L67.17,621.53 L67.42,621.28 L67.67,621.04 L67.92,620.8 L68.17,620.58 L68.42,620.38 L68.67,620.19 L68.92,620.02 L69.17,619.86 L69.42,619.72 L69.67,619.6 L69.92,619.5 L70.17,619.42 L70.41,619.36 L70.66,619.32 L70.91,619.3 L71.16,619.3 L71.41,619.33 L71.66,619.37 L71.91,619.44 L72.16,619.53 L72.41,619.63 L72.66,619.76 L72.91,619.91 L73.16,620.07 L73.41,620.25 L73.66,620.44 L73.91,620.65 L74.16,620.88 L74.41,621.11 L74.66,621.36 L74.91,621.61 L75.16,621.88 L75.41,622.15 L75.66,622.42 L75.91,622.7 L76.16,622.98 L76.41,623.26 L76.66,623.54 L76.91,623.81 L77.16,624.09 L77.41,624.35 L77.66,624.61 L77.9,624.85 L78.15,625.09 L78.4,625.32 L78.65,625.53 L78.9,625.73 L79.15,625.91 L79.4,626.07 L79.65,626.22 L79.9,626.35 L80.15,626.46 L80.4,626.55 L80.65,626.62 L80.9,626.67 L81.15,626.69 L81.4,626.7" fill="none" stroke="#1e6456" stroke-width="2.25" stroke-dasharray="7 5.5" stroke-linecap="butt"/>
<line x1="84.7" y1="603.8" x2="100.3" y2="603.8" stroke="#1a1a1a" stroke-width="1.9"/>
<polygon points="99.8,599.4 108.6,603.8 99.8,608.2" fill="#1a1a1a"/>
<rect x="110.25" y="557.9" width="81.05" height="102" fill="none" stroke="#98acd8" stroke-width="2"/>
<rect x="116.15" y="570.35" width="16.6" height="62.8" rx="0.8" fill="#f6bf91" stroke="#242220" stroke-width="1.5"/>
<rect x="129.25" y="574.1" width="16.6" height="62.8" rx="0.8" fill="#f6bf91" stroke="#242220" stroke-width="1.5"/>
<rect x="142.35" y="577.85" width="16.6" height="62.8" rx="0.8" fill="#f6bf91" stroke="#242220" stroke-width="1.5"/>
<rect x="155.45" y="581.6" width="16.6" height="62.8" rx="0.8" fill="#f6bf91" stroke="#242220" stroke-width="1.5"/>
<rect x="168.55" y="585.35" width="16.6" height="62.8" rx="0.8" fill="#c94c4b" stroke="#8a2a2d" stroke-width="1.5"/>
<line x1="192.3" y1="604.6" x2="202.1" y2="604.6" stroke="#1a1a1a" stroke-width="1.9"/>
<polygon points="201.6,600.2 210.4,604.6 201.6,609" fill="#1a1a1a"/>
<polygon points="217.4,582 242,595.8 242,611.9 217.4,626.2" fill="#dde9f8" stroke="#1a1a1a" stroke-width="1.75" stroke-linejoin="miter"/>
<text transform="translate(228.8,603.1) rotate(90)" x="0" y="3.2" font-size="8.8" text-anchor="middle" fill="#1a1a1a" stroke="#1a1a1a" stroke-width="0.28">CNN</text>
<line x1="249.9" y1="605.6" x2="261" y2="605.6" stroke="#1a1a1a" stroke-width="1.9"/>
<polygon points="260.5,601.2 269.3,605.6 260.5,610" fill="#1a1a1a"/>
<text x="296" y="563.8" font-size="8.8" text-anchor="middle" font-weight="normal" fill="#1a1a1a" stroke="#1a1a1a" stroke-width="0.28" >Interface</text>
<text x="296" y="571.5" font-size="8.8" text-anchor="middle" font-weight="normal" fill="#1a1a1a" stroke="#1a1a1a" stroke-width="0.28" >prediction</text>
<path d="M282.99,587.2V625.8M287.68,587.2V625.8M292.36,587.2V625.8M297.05,587.2V625.8M301.74,587.2V625.8M306.43,587.2V625.8M311.11,587.2V625.8M278.3,591.49H315.8M278.3,595.78H315.8M278.3,600.07H315.8M278.3,604.36H315.8M278.3,608.64H315.8M278.3,612.93H315.8M278.3,617.22H315.8M278.3,621.51H315.8" stroke="#2a2a2a" stroke-width="0.9" fill="none"/>
<path d="M282.99,595.78H287.68V600.07H292.36V612.93H282.99Z" fill="#141414"/>
<rect x="278.3" y="587.2" width="37.5" height="38.6" fill="none" stroke="#2a2a2a" stroke-width="1.3"/>
<path d="M279.6,581.45 L279.85,581.47 L280.1,581.54 L280.35,581.65 L280.59,581.8 L280.84,581.98 L281.09,582.2 L281.34,582.44 L281.59,582.71 L281.84,582.99 L282.09,583.28 L282.33,583.57 L282.58,583.85 L282.83,584.12 L283.08,584.38 L283.33,584.61 L283.58,584.81 L283.83,584.98 L284.07,585.11 L284.32,585.2 L284.57,585.24 L284.82,585.24 L285.07,585.2 L285.32,585.11 L285.57,584.99 L285.81,584.82 L286.06,584.62 L286.31,584.39 L286.56,584.13 L286.81,583.86 L287.06,583.57 L287.31,583.28 L287.55,583 L287.8,582.71 L288.05,582.45 L288.3,582.2 L288.55,581.99 L288.8,581.8 L289.05,581.65 L289.3,581.54 L289.54,581.47 L289.79,581.45 L290.04,581.47 L290.29,581.54 L290.54,581.64 L290.79,581.79 L291.04,581.97 L291.28,582.19 L291.53,582.43 L291.78,582.7 L292.03,582.98 L292.28,583.27 L292.53,583.56 L292.78,583.84 L293.02,584.12 L293.27,584.37 L293.52,584.6 L293.77,584.81 L294.02,584.98 L294.27,585.11 L294.52,585.2 L294.76,585.24 L295.01,585.25 L295.26,585.2 L295.51,585.12 L295.76,584.99 L296.01,584.83 L296.26,584.63 L296.5,584.4 L296.75,584.14 L297,583.87 L297.25,583.58 L297.5,583.29 L297.75,583 L298,582.72 L298.24,582.46 L298.49,582.21 L298.74,581.99 L298.99,581.81 L299.24,581.66 L299.49,581.54 L299.74,581.48 L299.98,581.45 L300.23,581.47 L300.48,581.53 L300.73,581.64 L300.98,581.79 L301.23,581.97 L301.48,582.18 L301.72,582.43 L301.97,582.69 L302.22,582.97 L302.47,583.26 L302.72,583.55 L302.97,583.83 L303.22,584.11 L303.46,584.36 L303.71,584.6 L303.96,584.8 L304.21,584.97 L304.46,585.1 L304.71,585.19 L304.96,585.24 L305.2,585.25 L305.45,585.21 L305.7,585.12 L305.95,585 L306.2,584.83 L306.45,584.63 L306.7,584.4 L306.95,584.15 L307.19,583.88 L307.44,583.59 L307.69,583.3 L307.94,583.01 L308.19,582.73 L308.44,582.46 L308.69,582.22 L308.93,582 L309.18,581.81 L309.43,581.66 L309.68,581.55 L309.93,581.48 L310.18,581.45 L310.43,581.47 L310.67,581.53 L310.92,581.64 L311.17,581.78 L311.42,581.96 L311.67,582.18 L311.92,582.42 L312.17,582.68 L312.41,582.96 L312.66,583.25 L312.91,583.54 L313.16,583.82 L313.41,584.1 L313.66,584.36 L313.91,584.59 L314.15,584.8 L314.4,584.97 L314.65,585.1 L314.9,585.19" fill="none" stroke="#3a8ad0" stroke-width="1.4"/>
<path d="M276.6,587 L276.58,587.24 L276.53,587.49 L276.43,587.73 L276.31,587.98 L276.15,588.22 L275.96,588.46 L275.75,588.71 L275.52,588.95 L275.27,589.19 L275,589.44 L274.73,589.68 L274.46,589.92 L274.19,590.17 L273.93,590.41 L273.68,590.66 L273.44,590.9 L273.23,591.14 L273.05,591.39 L272.89,591.63 L272.76,591.88 L272.67,592.12 L272.62,592.36 L272.6,592.61 L272.62,592.85 L272.68,593.09 L272.77,593.34 L272.9,593.58 L273.05,593.83 L273.24,594.07 L273.45,594.31 L273.69,594.56 L273.94,594.8 L274.2,595.04 L274.47,595.29 L274.75,595.53 L275.02,595.77 L275.28,596.02 L275.53,596.26 L275.76,596.51 L275.97,596.75 L276.16,596.99 L276.32,597.24 L276.44,597.48 L276.53,597.73 L276.58,597.97 L276.6,598.21 L276.58,598.46 L276.52,598.7 L276.43,598.94 L276.3,599.19 L276.14,599.43 L275.95,599.67 L275.74,599.92 L275.51,600.16 L275.25,600.41 L274.99,600.65 L274.72,600.89 L274.45,601.14 L274.18,601.38 L273.91,601.62 L273.66,601.87 L273.43,602.11 L273.22,602.36 L273.04,602.6 L272.88,602.84 L272.76,603.09 L272.67,603.33 L272.62,603.58 L272.6,603.82 L272.62,604.06 L272.68,604.31 L272.77,604.55 L272.9,604.79 L273.06,605.04 L273.25,605.28 L273.47,605.52 L273.7,605.77 L273.95,606.01 L274.22,606.26 L274.49,606.5 L274.76,606.74 L275.03,606.99 L275.29,607.23 L275.54,607.48 L275.77,607.72 L275.98,607.96 L276.17,608.21 L276.32,608.45 L276.45,608.69 L276.53,608.94 L276.58,609.18 L276.6,609.42 L276.58,609.67 L276.52,609.91 L276.42,610.16 L276.29,610.4 L276.13,610.64 L275.94,610.89 L275.73,611.13 L275.49,611.38 L275.24,611.62 L274.98,611.86 L274.71,612.11 L274.43,612.35 L274.16,612.59 L273.9,612.84 L273.65,613.08 L273.42,613.33 L273.21,613.57 L273.03,613.81 L272.87,614.06 L272.75,614.3 L272.67,614.54 L272.61,614.79 L272.6,615.03 L272.62,615.27 L272.68,615.52 L272.78,615.76 L272.91,616.01 L273.07,616.25 L273.26,616.49 L273.48,616.74 L273.71,616.98 L273.97,617.23 L274.23,617.47 L274.5,617.71 L274.78,617.96 L275.05,618.2 L275.31,618.44 L275.56,618.69 L275.79,618.93 L275.99,619.17 L276.18,619.42 L276.33,619.66 L276.45,619.91 L276.54,620.15 L276.59,620.39 L276.6,620.64 L276.58,620.88 L276.51,621.12 L276.42,621.37 L276.29,621.61 L276.12,621.86 L275.93,622.1 L275.72,622.34 L275.48,622.59 L275.23,622.83 L274.96,623.08 L274.69,623.32 L274.42,623.56 L274.15,623.81 L273.89,624.05 L273.64,624.29 L273.41,624.54 L273.2,624.78 L273.02,625.02 L272.87,625.27 L272.75,625.51 L272.66,625.76 L272.61,626" fill="none" stroke="#1e6456" stroke-width="1.6" stroke-dasharray="6.5 4.5"/>
<line x1="385.6" y1="23.1" x2="385.6" y2="189.3" stroke="#b8b8b8" stroke-width="1.1"/>
<line x1="385.6" y1="189.3" x2="671.3" y2="189.3" stroke="#cfcfcf" stroke-width="1.1"/>
<path d="M385.6,182.81h1.9M385.6,178.79h1.9M385.6,174.78h1.9M385.6,170.76h1.9M385.6,166.74h1.9M385.6,162.73h1.9M385.6,158.71h1.9M385.6,154.7h1.9M385.6,150.68h1.9M385.6,146.66h1.9M385.6,142.65h1.9M385.6,138.63h1.9M385.6,134.62h1.9M385.6,130.6h1.9M385.6,126.58h1.9M385.6,122.57h1.9M385.6,118.55h1.9M385.6,114.54h1.9M385.6,110.52h1.9M385.6,106.5h1.9M385.6,102.49h1.9M385.6,98.47h1.9M385.6,94.46h1.9M385.6,90.44h1.9M385.6,86.42h1.9M385.6,82.41h1.9M385.6,78.39h1.9M385.6,74.38h1.9M385.6,70.36h1.9M385.6,66.34h1.9M385.6,62.33h1.9M385.6,58.31h1.9M385.6,54.3h1.9M385.6,50.28h1.9M385.6,46.26h1.9M385.6,42.25h1.9M385.6,38.23h1.9M385.6,34.22h1.9M385.6,30.2h1.9M385.6,26.18h1.9" stroke="#a8a8a8" stroke-width="0.6"/>
<text x="383.4" y="173.66" font-size="8" text-anchor="end" font-weight="normal" fill="#1f1f1f" stroke="#1f1f1f" stroke-width="0.28" >0.450</text>
<text x="383.4" y="153.58" font-size="8" text-anchor="end" font-weight="normal" fill="#1f1f1f" stroke="#1f1f1f" stroke-width="0.28" >0.475</text>
<text x="383.4" y="133.5" font-size="8" text-anchor="end" font-weight="normal" fill="#1f1f1f" stroke="#1f1f1f" stroke-width="0.28" >0.500</text>
<text x="383.4" y="113.42" font-size="8" text-anchor="end" font-weight="normal" fill="#1f1f1f" stroke="#1f1f1f" stroke-width="0.28" >0.525</text>
<text x="383.4" y="93.34" font-size="8" text-anchor="end" font-weight="normal" fill="#1f1f1f" stroke="#1f1f1f" stroke-width="0.28" >0.550</text>
<text x="383.4" y="73.26" font-size="8" text-anchor="end" font-weight="normal" fill="#1f1f1f" stroke="#1f1f1f" stroke-width="0.28" >0.575</text>
<text x="383.4" y="53.18" font-size="8" text-anchor="end" font-weight="normal" fill="#1f1f1f" stroke="#1f1f1f" stroke-width="0.28" >0.600</text>
<text x="383.4" y="33.1" font-size="8" text-anchor="end" font-weight="normal" fill="#1f1f1f" stroke="#1f1f1f" stroke-width="0.28" >0.625</text>
<text transform="translate(355.2,99.7) rotate(-90)" x="0" y="0" font-size="8" text-anchor="middle" fill="#1f1f1f" stroke="#1f1f1f" stroke-width="0.28">AUROC</text>
<line x1="398.6" y1="76.7" x2="398.6" y2="182.3" stroke="#7a2fd6" stroke-width="1.3"/>
<line x1="396.4" y1="76.7" x2="400.8" y2="76.7" stroke="#7a2fd6" stroke-width="1"/>
<line x1="396.4" y1="182.3" x2="400.8" y2="182.3" stroke="#7a2fd6" stroke-width="1"/>
<circle cx="398.6" cy="129.5" r="1.75" fill="#7a2fd6"/>
<line x1="398.6" y1="189.3" x2="398.6" y2="188.2" stroke="#888" stroke-width="0.7"/>
<text transform="translate(402.6,196.6) rotate(-55)" x="0" y="0" font-size="8" text-anchor="end" fill="#1f1f1f" stroke="#1f1f1f" stroke-width="0.28">TITAN</text>
<line x1="441.7" y1="79.3" x2="441.7" y2="126.3" stroke="#229be6" stroke-width="1.3"/>
<line x1="439.5" y1="79.3" x2="443.9" y2="79.3" stroke="#229be6" stroke-width="1"/>
<line x1="439.5" y1="126.3" x2="443.9" y2="126.3" stroke="#229be6" stroke-width="1"/>
<circle cx="441.7" cy="102.8" r="1.75" fill="#229be6"/>
<line x1="441.7" y1="189.3" x2="441.7" y2="188.2" stroke="#888" stroke-width="0.7"/>
<text transform="translate(445.7,196.6) rotate(-55)" x="0" y="0" font-size="8" text-anchor="end" fill="#1f1f1f" stroke="#1f1f1f" stroke-width="0.28">TEINet</text>
<line x1="485" y1="86.2" x2="485" y2="119.4" stroke="#c65a1c" stroke-width="1.3"/>
<line x1="482.8" y1="86.2" x2="487.2" y2="86.2" stroke="#c65a1c" stroke-width="1"/>
<line x1="482.8" y1="119.4" x2="487.2" y2="119.4" stroke="#c65a1c" stroke-width="1"/>
<circle cx="485" cy="102.9" r="1.75" fill="#c65a1c"/>
<line x1="485" y1="189.3" x2="485" y2="188.2" stroke="#888" stroke-width="0.7"/>
<text transform="translate(489,196.6) rotate(-55)" x="0" y="0" font-size="8" text-anchor="end" fill="#1f1f1f" stroke="#1f1f1f" stroke-width="0.28">PanPep</text>
<line x1="528.4" y1="56.5" x2="528.4" y2="123.4" stroke="#981c56" stroke-width="1.3"/>
<line x1="526.2" y1="56.5" x2="530.6" y2="56.5" stroke="#981c56" stroke-width="1"/>
<line x1="526.2" y1="123.4" x2="530.6" y2="123.4" stroke="#981c56" stroke-width="1"/>
<circle cx="528.4" cy="90.2" r="1.75" fill="#981c56"/>
<line x1="528.4" y1="189.3" x2="528.4" y2="188.2" stroke="#888" stroke-width="0.7"/>
<text transform="translate(532.4,196.6) rotate(-55)" x="0" y="0" font-size="8" text-anchor="end" fill="#1f1f1f" stroke="#1f1f1f" stroke-width="0.28">NET-TCR2</text>
<line x1="571.6" y1="62.4" x2="571.6" y2="106.7" stroke="#f0405a" stroke-width="1.3"/>
<line x1="569.4" y1="62.4" x2="573.8" y2="62.4" stroke="#f0405a" stroke-width="1"/>
<line x1="569.4" y1="106.7" x2="573.8" y2="106.7" stroke="#f0405a" stroke-width="1"/>
<circle cx="571.6" cy="84.3" r="1.75" fill="#f0405a"/>
<line x1="571.6" y1="189.3" x2="571.6" y2="188.2" stroke="#888" stroke-width="0.7"/>
<text transform="translate(577,196.6) rotate(-55)" x="0" y="0" font-size="8" text-anchor="end" fill="#1f1f1f" stroke="#1f1f1f" stroke-width="0.28">MIX-TPI</text>
<line x1="615" y1="30.8" x2="615" y2="109.7" stroke="#762a2e" stroke-width="1.3"/>
<line x1="612.8" y1="30.8" x2="617.2" y2="30.8" stroke="#762a2e" stroke-width="1"/>
<line x1="612.8" y1="109.7" x2="617.2" y2="109.7" stroke="#762a2e" stroke-width="1"/>
<circle cx="615" cy="70" r="1.75" fill="#4a0a0a"/>
<line x1="615" y1="189.3" x2="615" y2="188.2" stroke="#888" stroke-width="0.7"/>
<text transform="translate(621,196.6) rotate(-55)" x="0" y="0" font-size="8" text-anchor="end" fill="#1f1f1f" stroke="#1f1f1f" stroke-width="0.28">AVIB-TCR</text>
<line x1="658.5" y1="63.2" x2="658.5" y2="71.3" stroke="#1d8a3a" stroke-width="1.3"/>
<line x1="656.3" y1="63.2" x2="660.7" y2="63.2" stroke="#1d8a3a" stroke-width="1"/>
<line x1="656.3" y1="71.3" x2="660.7" y2="71.3" stroke="#1d8a3a" stroke-width="1"/>
<circle cx="658.5" cy="67.3" r="1.75" fill="#1d8a3a"/>
<line x1="658.5" y1="189.3" x2="658.5" y2="188.2" stroke="#888" stroke-width="0.7"/>
<text transform="translate(662.5,196.6) rotate(-55)" x="0" y="0" font-size="8" text-anchor="end" fill="#1f1f1f" stroke="#1f1f1f" stroke-width="0.28">MINT</text>
<line x1="385.7" y1="277.4" x2="385.7" y2="434.2" stroke="#b8b8b8" stroke-width="1.1"/>
<line x1="385.7" y1="434.2" x2="657.4" y2="434.2" stroke="#cfcfcf" stroke-width="1.1"/>
<path d="M385.7,433.51h1.9M385.7,429.52h1.9M385.7,425.54h1.9M385.7,421.55h1.9M385.7,417.57h1.9M385.7,413.58h1.9M385.7,409.59h1.9M385.7,405.61h1.9M385.7,401.62h1.9M385.7,397.64h1.9M385.7,393.65h1.9M385.7,389.66h1.9M385.7,385.68h1.9M385.7,381.69h1.9M385.7,377.71h1.9M385.7,373.72h1.9M385.7,369.73h1.9M385.7,365.75h1.9M385.7,361.76h1.9M385.7,357.78h1.9M385.7,353.79h1.9M385.7,349.8h1.9M385.7,345.82h1.9M385.7,341.83h1.9M385.7,337.85h1.9M385.7,333.86h1.9M385.7,329.87h1.9M385.7,325.89h1.9M385.7,321.9h1.9M385.7,317.92h1.9M385.7,313.93h1.9M385.7,309.94h1.9M385.7,305.96h1.9M385.7,301.97h1.9M385.7,297.99h1.9M385.7,294h1.9M385.7,290.01h1.9M385.7,286.03h1.9M385.7,282.04h1.9" stroke="#a8a8a8" stroke-width="0.6"/>
<text x="384.2" y="436.01" font-size="8" text-anchor="end" font-weight="normal" fill="#1f1f1f" stroke="#1f1f1f" stroke-width="0.28" >0.45</text>
<text x="384.2" y="416.08" font-size="8" text-anchor="end" font-weight="normal" fill="#1f1f1f" stroke="#1f1f1f" stroke-width="0.28" >0.50</text>
<text x="384.2" y="396.15" font-size="8" text-anchor="end" font-weight="normal" fill="#1f1f1f" stroke="#1f1f1f" stroke-width="0.28" >0.55</text>
<text x="384.2" y="376.22" font-size="8" text-anchor="end" font-weight="normal" fill="#1f1f1f" stroke="#1f1f1f" stroke-width="0.28" >0.60</text>
<text x="384.2" y="356.29" font-size="8" text-anchor="end" font-weight="normal" fill="#1f1f1f" stroke="#1f1f1f" stroke-width="0.28" >0.65</text>
<text x="384.2" y="336.36" font-size="8" text-anchor="end" font-weight="normal" fill="#1f1f1f" stroke="#1f1f1f" stroke-width="0.28" >0.70</text>
<text x="384.2" y="316.43" font-size="8" text-anchor="end" font-weight="normal" fill="#1f1f1f" stroke="#1f1f1f" stroke-width="0.28" >0.75</text>
<text x="384.2" y="296.5" font-size="8" text-anchor="end" font-weight="normal" fill="#1f1f1f" stroke="#1f1f1f" stroke-width="0.28" >0.80</text>
<text transform="translate(357.4,352.7) rotate(-90)" x="0" y="0" font-size="8" text-anchor="middle" fill="#1f1f1f" stroke="#1f1f1f" stroke-width="0.28">AUROC</text>
<rect x="397.5" y="381.69" width="9.98" height="52.51" fill="#cc9cf0" stroke="#111" stroke-opacity="0.7" stroke-width="0.6"/>
<rect x="407.48" y="389.66" width="9.98" height="44.54" fill="#a07c9e" stroke="#111" stroke-opacity="0.7" stroke-width="0.6"/>
<rect x="417.46" y="389.66" width="9.98" height="44.54" fill="#666888" stroke="#111" stroke-opacity="0.7" stroke-width="0.6"/>
<rect x="427.44" y="301.97" width="9.98" height="132.23" fill="#384a6c" stroke="#111" stroke-opacity="0.7" stroke-width="0.6"/>
<rect x="437.42" y="299.38" width="9.98" height="134.82" fill="#1e8035" stroke="#111" stroke-opacity="0.7" stroke-width="0.6"/>
<line x1="422.45" y1="434.2" x2="422.45" y2="433.2" stroke="#888" stroke-width="0.7"/>
<rect x="496.4" y="393.65" width="9.98" height="40.55" fill="#cc9cf0" stroke="#111" stroke-opacity="0.7" stroke-width="0.6"/>
<rect x="506.38" y="389.66" width="9.98" height="44.54" fill="#a07c9e" stroke="#111" stroke-opacity="0.7" stroke-width="0.6"/>
<rect x="516.36" y="389.66" width="9.98" height="44.54" fill="#666888" stroke="#111" stroke-opacity="0.7" stroke-width="0.6"/>
<rect x="526.34" y="337.85" width="9.98" height="96.35" fill="#384a6c" stroke="#111" stroke-opacity="0.7" stroke-width="0.6"/>
<rect x="536.32" y="323.9" width="9.98" height="110.3" fill="#1e8035" stroke="#111" stroke-opacity="0.7" stroke-width="0.6"/>
<line x1="521.35" y1="434.2" x2="521.35" y2="433.2" stroke="#888" stroke-width="0.7"/>
<rect x="595.4" y="329.87" width="9.98" height="104.33" fill="#cc9cf0" stroke="#111" stroke-opacity="0.7" stroke-width="0.6"/>
<rect x="605.38" y="329.87" width="9.98" height="104.33" fill="#a07c9e" stroke="#111" stroke-opacity="0.7" stroke-width="0.6"/>
<rect x="615.36" y="381.69" width="9.98" height="52.51" fill="#666888" stroke="#111" stroke-opacity="0.7" stroke-width="0.6"/>
<rect x="625.34" y="325.09" width="9.98" height="109.11" fill="#384a6c" stroke="#111" stroke-opacity="0.7" stroke-width="0.6"/>
<rect x="635.32" y="319.19" width="9.98" height="115.01" fill="#1e8035" stroke="#111" stroke-opacity="0.7" stroke-width="0.6"/>
<line x1="620.35" y1="434.2" x2="620.35" y2="433.2" stroke="#888" stroke-width="0.7"/>
<circle cx="442.6" cy="293.1" r="1.1" fill="none" stroke="#888" stroke-width="0.55"/>
<circle cx="441" cy="297.2" r="1.1" fill="none" stroke="#aaa" stroke-width="0.55"/>
<circle cx="441.2" cy="305.2" r="1.1" fill="none" stroke="#222" stroke-width="0.55"/>
<circle cx="442.4" cy="301.4" r="1.1" fill="none" stroke="#222" stroke-width="0.55"/>
<line x1="442.6" y1="293.8" x2="442.6" y2="302.6" stroke="#444" stroke-width="0.5"/>
<ellipse cx="541.4" cy="318.2" rx="1.1" ry="2.4" fill="none" stroke="#888" stroke-width="0.6"/>
<line x1="541.4" y1="320.5" x2="541.4" y2="325.5" stroke="#444" stroke-width="0.5"/>
<ellipse cx="541" cy="325.6" rx="1.3" ry="0.9" fill="#0d4a1c"/>
<circle cx="540.6" cy="330.8" r="1.1" fill="none" stroke="#113" stroke-width="0.55"/>
<circle cx="635.5" cy="314.2" r="1.1" fill="none" stroke="#777" stroke-width="0.55"/>
<circle cx="642.6" cy="315.4" r="1.1" fill="none" stroke="#888" stroke-width="0.55"/>
<circle cx="640.6" cy="317.6" r="1.1" fill="none" stroke="#555" stroke-width="0.55"/>
<circle cx="638.6" cy="327.1" r="1.1" fill="none" stroke="#113" stroke-width="0.55"/>
<path d="M637.2,320.6q0.9,1.4 1.8,0.4M639.2,321.2q0.9,0.8 1.8,0.3" stroke="#0d3a18" stroke-width="0.8" fill="none"/>
<rect x="454.8" y="268.3" width="11.2" height="5.4" fill="#cc9cf0"/>
<text x="467.6" y="273.5" font-size="7.9" text-anchor="start" font-weight="normal" fill="#1f1f1f" stroke="#1f1f1f" stroke-width="0.28" >ImRex</text>
<rect x="454.8" y="277.9" width="11.2" height="5.6" fill="#a07c9e"/>
<text x="467.6" y="282.9" font-size="7.9" text-anchor="start" font-weight="normal" fill="#1f1f1f" stroke="#1f1f1f" stroke-width="0.28" >TEIM</text>
<rect x="496.9" y="268.3" width="11.2" height="5.4" fill="#666888"/>
<text x="509.2" y="273.5" font-size="7.9" text-anchor="start" font-weight="normal" fill="#1f1f1f" stroke="#1f1f1f" stroke-width="0.28" >pMTNet</text>
<rect x="496.9" y="277.9" width="11.2" height="5.6" fill="#384a6c"/>
<text x="509.2" y="282.9" font-size="7.9" text-anchor="start" font-weight="normal" fill="#1f1f1f" stroke="#1f1f1f" stroke-width="0.28" >PISTE</text>
<rect x="543.8" y="273" width="11" height="5.4" fill="#1e8035"/>
<text x="556" y="278.4" font-size="9" text-anchor="start" font-weight="normal" fill="#1f1f1f" stroke="#1f1f1f" stroke-width="0.28" textLength="19.4" lengthAdjust="spacingAndGlyphs">MINT</text>
<text x="423.5" y="443.6" font-size="8" text-anchor="middle" font-weight="normal" fill="#1f1f1f" stroke="#1f1f1f" stroke-width="0.28" >Random split</text>
<text x="523" y="443.6" font-size="8" text-anchor="middle" font-weight="normal" fill="#1f1f1f" stroke="#1f1f1f" stroke-width="0.28" >Unified peptide</text>
<text x="523.1" y="451.5" font-size="8" text-anchor="middle" font-weight="normal" fill="#1f1f1f" stroke="#1f1f1f" stroke-width="0.28" >split</text>
<text x="622.8" y="443.6" font-size="8" text-anchor="middle" font-weight="normal" fill="#1f1f1f" stroke="#1f1f1f" stroke-width="0.28" >Reference TCR</text>
<text x="622.8" y="451.5" font-size="8" text-anchor="middle" font-weight="normal" fill="#1f1f1f" stroke="#1f1f1f" stroke-width="0.28" >split</text>
<line x1="381.2" y1="503.3" x2="381.2" y2="679.2" stroke="#b8b8b8" stroke-width="1.1"/>
<line x1="381.2" y1="679.2" x2="683.5" y2="679.2" stroke="#c4c4c4" stroke-width="1.1"/>
<path d="M381.2,678.4h1.9M381.2,670.02h1.9M381.2,661.64h1.9M381.2,653.26h1.9M381.2,644.88h1.9M381.2,636.5h1.9M381.2,628.12h1.9M381.2,619.74h1.9M381.2,611.36h1.9M381.2,602.98h1.9M381.2,594.6h1.9M381.2,586.22h1.9M381.2,577.84h1.9M381.2,569.46h1.9M381.2,561.08h1.9M381.2,552.7h1.9M381.2,544.32h1.9M381.2,535.94h1.9M381.2,527.56h1.9M381.2,519.18h1.9M381.2,510.8h1.9" stroke="#a8a8a8" stroke-width="0.6"/>
<text x="378.8" y="681.2" font-size="8" text-anchor="end" font-weight="normal" fill="#1f1f1f" stroke="#1f1f1f" stroke-width="0.28" >0.0</text>
<text x="378.8" y="647.68" font-size="8" text-anchor="end" font-weight="normal" fill="#1f1f1f" stroke="#1f1f1f" stroke-width="0.28" >0.2</text>
<text x="378.8" y="614.16" font-size="8" text-anchor="end" font-weight="normal" fill="#1f1f1f" stroke="#1f1f1f" stroke-width="0.28" >0.4</text>
<text x="378.8" y="580.64" font-size="8" text-anchor="end" font-weight="normal" fill="#1f1f1f" stroke="#1f1f1f" stroke-width="0.28" >0.6</text>
<text x="378.8" y="547.12" font-size="8" text-anchor="end" font-weight="normal" fill="#1f1f1f" stroke="#1f1f1f" stroke-width="0.28" >0.8</text>
<text x="378.8" y="513.6" font-size="8" text-anchor="end" font-weight="normal" fill="#1f1f1f" stroke="#1f1f1f" stroke-width="0.28" >1.0</text>
<text transform="translate(356.4,579.5) rotate(-90)" x="0" y="0" font-size="8" text-anchor="middle" fill="#1f1f1f" stroke="#1f1f1f" stroke-width="0.28">AUPRC</text>
<rect x="477.2" y="491.8" width="11.5" height="5.9" fill="#1e8fe8"/>
<text x="489.7" y="497.3" font-size="8" text-anchor="start" font-weight="normal" fill="#1f1f1f" stroke="#1f1f1f" stroke-width="0.28" >TEIM</text>
<rect x="515.7" y="491.8" width="11.2" height="5.9" fill="#1e7f3a"/>
<text x="527.8" y="497.3" font-size="8" text-anchor="start" font-weight="normal" fill="#1f1f1f" stroke="#1f1f1f" stroke-width="0.28" >MINT</text>
<rect x="411.3" y="566.1" width="30.4" height="36.7" fill="none" stroke="#5aaef0" stroke-width="1.1"/>
<line x1="411.3" y1="586.3" x2="441.7" y2="586.3" stroke="#3a3a3a" stroke-width="0.75" stroke-dasharray="2.2 1.4"/>
<rect x="471.4" y="551.1" width="30.7" height="65.7" fill="none" stroke="#7fb890" stroke-width="1.1"/>
<line x1="471.4" y1="584.6" x2="502.1" y2="584.6" stroke="#3a3a3a" stroke-width="0.75" stroke-dasharray="2.2 1.4"/>
<rect x="562.3" y="552.3" width="30.3" height="48.1" fill="none" stroke="#5aaef0" stroke-width="1.1"/>
<line x1="562.3" y1="577.5" x2="592.6" y2="577.5" stroke="#3a3a3a" stroke-width="0.75" stroke-dasharray="2.2 1.4"/>
<rect x="622.4" y="535.6" width="31.3" height="69.1" fill="none" stroke="#7fb890" stroke-width="1.1"/>
<line x1="622.4" y1="574.4" x2="653.7" y2="574.4" stroke="#3a3a3a" stroke-width="0.75" stroke-dasharray="2.2 1.4"/>
<line x1="456.4" y1="679.2" x2="456.4" y2="678.2" stroke="#888" stroke-width="0.7"/>
<line x1="607.4" y1="679.2" x2="607.4" y2="678.2" stroke="#888" stroke-width="0.7"/>
<text x="453.9" y="687.3" font-size="8" text-anchor="middle" font-weight="normal" fill="#1f1f1f" stroke="#1f1f1f" stroke-width="0.28" >CDR3 split</text>
<text x="606.8" y="687.3" font-size="8" text-anchor="middle" font-weight="normal" fill="#1f1f1f" stroke="#1f1f1f" stroke-width="0.28" >Epitope split</text>
<g fill="#1c89e6"><circle cx="426.2" cy="527.5" r="1.3"/><circle cx="426.2" cy="531.8" r="1.3"/><circle cx="423" cy="536.5" r="1.3"/><circle cx="426.2" cy="537" r="1.3"/><circle cx="429.1" cy="536" r="1.3"/><circle cx="424.5" cy="543.2" r="1.3"/><circle cx="426.2" cy="545.7" r="1.3"/><circle cx="423.9" cy="551.3" r="1.3"/><circle cx="428.2" cy="551.1" r="1.3"/><circle cx="426.2" cy="553" r="1.3"/><circle cx="423.3" cy="555.7" r="1.3"/><circle cx="426.5" cy="556.5" r="1.3"/><circle cx="428.8" cy="557.7" r="1.3"/><circle cx="423" cy="558.9" r="1.3"/><circle cx="425.9" cy="560" r="1.3"/><circle cx="426.2" cy="562.9" r="1.3"/><circle cx="421.1" cy="566.1" r="1.3"/><circle cx="423.7" cy="566.3" r="1.3"/><circle cx="426.3" cy="565.7" r="1.3"/><circle cx="428.5" cy="566.5" r="1.3"/><circle cx="431.1" cy="566.1" r="1.3"/><circle cx="433.3" cy="565" r="1.3"/><circle cx="425.9" cy="567.8" r="1.3"/><circle cx="428.5" cy="568.3" r="1.3"/><circle cx="423.7" cy="570" r="1.3"/><circle cx="426.3" cy="570.4" r="1.3"/><circle cx="423.3" cy="573.1" r="1.3"/><circle cx="426.3" cy="573.9" r="1.3"/><circle cx="428.9" cy="573.1" r="1.3"/><circle cx="418.9" cy="576.1" r="1.3"/><circle cx="422" cy="577" r="1.3"/><circle cx="424.8" cy="577.8" r="1.3"/><circle cx="428.1" cy="577.4" r="1.3"/><circle cx="431.1" cy="577" r="1.3"/><circle cx="433.7" cy="576.1" r="1.3"/><circle cx="422" cy="580.7" r="1.3"/><circle cx="424.6" cy="581.3" r="1.3"/><circle cx="426.8" cy="580" r="1.3"/><circle cx="428.5" cy="582.2" r="1.3"/><circle cx="423.3" cy="584.8" r="1.3"/><circle cx="426.3" cy="583.9" r="1.3"/><circle cx="429.8" cy="585.2" r="1.3"/><circle cx="423.7" cy="586.5" r="1.3"/><circle cx="426.8" cy="586.1" r="1.3"/><circle cx="426.3" cy="588.3" r="1.3"/><circle cx="424.1" cy="590" r="1.3"/><circle cx="428.5" cy="590.5" r="1.3"/><circle cx="426.3" cy="591.3" r="1.3"/><circle cx="425" cy="592.6" r="1.3"/><circle cx="427.6" cy="593.1" r="1.3"/><circle cx="430.7" cy="592.9" r="1.3"/><circle cx="423.3" cy="594.4" r="1.3"/><circle cx="426.3" cy="595.2" r="1.3"/><circle cx="424.1" cy="597.4" r="1.3"/><circle cx="426.3" cy="598.7" r="1.3"/><circle cx="426.3" cy="602.5" r="1.3"/><circle cx="423.7" cy="605.1" r="1.3"/><circle cx="428.5" cy="604.8" r="1.3"/><circle cx="426.3" cy="606.6" r="1.3"/><circle cx="423.3" cy="611.8" r="1.3"/><circle cx="426.3" cy="612.2" r="1.3"/><circle cx="426.3" cy="618.7" r="1.3"/><circle cx="426.2" cy="627.8" r="1.3"/><circle cx="423.6" cy="630.4" r="1.3"/><circle cx="428.2" cy="629.2" r="1.3"/><circle cx="426.2" cy="631.3" r="1.3"/><circle cx="423.9" cy="634.2" r="1.3"/><circle cx="426.2" cy="636" r="1.3"/><circle cx="424.1" cy="645.5" r="1.3"/><circle cx="427.3" cy="645" r="1.3"/><circle cx="426.2" cy="647.6" r="1.3"/><circle cx="426.2" cy="652" r="1.3"/><circle cx="426.2" cy="662.6" r="1.3"/><circle cx="426.2" cy="665.9" r="1.3"/></g>
<g fill="#1b7d33"><circle cx="486.8" cy="511.3" r="1.3"/><circle cx="486.8" cy="520.3" r="1.3"/><circle cx="486.8" cy="523.8" r="1.3"/><circle cx="486.8" cy="527.8" r="1.3"/><circle cx="484.1" cy="532.5" r="1.3"/><circle cx="487" cy="532.8" r="1.3"/><circle cx="484.1" cy="535.4" r="1.3"/><circle cx="487" cy="535.7" r="1.3"/><circle cx="484.1" cy="540.8" r="1.3"/><circle cx="487" cy="541.2" r="1.3"/><circle cx="484.1" cy="544.7" r="1.3"/><circle cx="487" cy="546.4" r="1.3"/><circle cx="478.9" cy="549.2" r="1.3"/><circle cx="481.8" cy="549.9" r="1.3"/><circle cx="484.1" cy="551" r="1.3"/><circle cx="486.8" cy="551.6" r="1.3"/><circle cx="489.6" cy="551" r="1.3"/><circle cx="492.5" cy="550.8" r="1.3"/><circle cx="494.9" cy="549.3" r="1.3"/><circle cx="481.8" cy="553.6" r="1.3"/><circle cx="484.1" cy="555.5" r="1.3"/><circle cx="487" cy="555.9" r="1.3"/><circle cx="489.6" cy="554.8" r="1.3"/><circle cx="484.1" cy="560.1" r="1.3"/><circle cx="487" cy="560.6" r="1.3"/><circle cx="489.6" cy="560" r="1.3"/><circle cx="485" cy="563.8" r="1.3"/><circle cx="487" cy="565.9" r="1.3"/><circle cx="483" cy="567.9" r="1.3"/><circle cx="485.9" cy="568.4" r="1.3"/><circle cx="488.2" cy="569.6" r="1.3"/><circle cx="490.6" cy="569.8" r="1.3"/><circle cx="484.2" cy="571.8" r="1.3"/><circle cx="486.9" cy="572" r="1.3"/><circle cx="484.2" cy="574.7" r="1.3"/><circle cx="486.9" cy="575.6" r="1.3"/><circle cx="489.5" cy="574" r="1.3"/><circle cx="486.8" cy="582.6" r="1.3"/><circle cx="481.6" cy="583.9" r="1.3"/><circle cx="484.2" cy="585.7" r="1.3"/><circle cx="486.8" cy="585.7" r="1.3"/><circle cx="489.8" cy="585.7" r="1.3"/><circle cx="486.8" cy="588.7" r="1.3"/><circle cx="485" cy="590.9" r="1.3"/><circle cx="488.5" cy="590.9" r="1.3"/><circle cx="486.8" cy="593.3" r="1.3"/><circle cx="486.8" cy="602.7" r="1.3"/><circle cx="488.5" cy="605.3" r="1.3"/><circle cx="484" cy="607.3" r="1.3"/><circle cx="486.8" cy="607.6" r="1.3"/><circle cx="484" cy="610.9" r="1.3"/><circle cx="486.8" cy="611.6" r="1.3"/><circle cx="486.8" cy="614.9" r="1.3"/><circle cx="483.7" cy="617" r="1.3"/><circle cx="486.3" cy="617.9" r="1.3"/><circle cx="489" cy="617.2" r="1.3"/><circle cx="486.8" cy="620.7" r="1.3"/><circle cx="484.2" cy="623.3" r="1.3"/><circle cx="486.8" cy="624.7" r="1.3"/><circle cx="486.8" cy="628" r="1.3"/><circle cx="485.2" cy="631.1" r="1.3"/><circle cx="488.1" cy="630.6" r="1.3"/><circle cx="486.8" cy="633.5" r="1.3"/><circle cx="484" cy="635.9" r="1.3"/><circle cx="488.1" cy="636.6" r="1.3"/><circle cx="485.9" cy="638.1" r="1.3"/><circle cx="486.8" cy="640.9" r="1.3"/><circle cx="486.8" cy="652.9" r="1.3"/><circle cx="484" cy="671" r="1.3"/><circle cx="486.8" cy="672" r="1.3"/><circle cx="489.4" cy="670.3" r="1.3"/><circle cx="492.2" cy="669.7" r="1.3"/></g>
<g fill="#1c89e6"><circle cx="574.3" cy="511.2" r="1.3"/><circle cx="577.9" cy="511.2" r="1.3"/><circle cx="575.8" cy="519.1" r="1.3"/><circle cx="578.4" cy="520.8" r="1.3"/><circle cx="575.8" cy="522.9" r="1.3"/><circle cx="577.6" cy="525.2" r="1.3"/><circle cx="574.8" cy="530.5" r="1.3"/><circle cx="577.6" cy="532" r="1.3"/><circle cx="579.6" cy="529.7" r="1.3"/><circle cx="574.3" cy="537.4" r="1.3"/><circle cx="577.6" cy="537.6" r="1.3"/><circle cx="577.6" cy="541.2" r="1.3"/><circle cx="574.8" cy="544.5" r="1.3"/><circle cx="577.4" cy="546.2" r="1.3"/><circle cx="579.6" cy="544" r="1.3"/><circle cx="578.2" cy="549.6" r="1.3"/><circle cx="569.7" cy="552" r="1.3"/><circle cx="572.8" cy="553" r="1.3"/><circle cx="575.3" cy="553.4" r="1.3"/><circle cx="576.8" cy="552.3" r="1.3"/><circle cx="579.4" cy="552.8" r="1.3"/><circle cx="581.9" cy="552.8" r="1.3"/><circle cx="584.3" cy="552.3" r="1.3"/><circle cx="574.8" cy="554.9" r="1.3"/><circle cx="577.4" cy="555.9" r="1.3"/><circle cx="574.3" cy="561.5" r="1.3"/><circle cx="577.4" cy="561.5" r="1.3"/><circle cx="579.9" cy="560.8" r="1.3"/><circle cx="574.3" cy="564.9" r="1.3"/><circle cx="577.4" cy="564.9" r="1.3"/><circle cx="580.2" cy="564.6" r="1.3"/><circle cx="577.6" cy="567.9" r="1.3"/><circle cx="577.6" cy="571.4" r="1.3"/><circle cx="574.8" cy="573.4" r="1.3"/><circle cx="577.6" cy="575" r="1.3"/><circle cx="571.8" cy="582.2" r="1.3"/><circle cx="574.3" cy="583.9" r="1.3"/><circle cx="577.2" cy="584.2" r="1.3"/><circle cx="579.9" cy="583.9" r="1.3"/><circle cx="582.2" cy="582.6" r="1.3"/><circle cx="585" cy="581.8" r="1.3"/><circle cx="578.6" cy="586.2" r="1.3"/><circle cx="574.8" cy="588" r="1.3"/><circle cx="577.6" cy="589.5" r="1.3"/><circle cx="574.8" cy="590.8" r="1.3"/><circle cx="577.6" cy="591" r="1.3"/><circle cx="579.9" cy="590.5" r="1.3"/><circle cx="577.6" cy="593" r="1.3"/><circle cx="574.8" cy="595.8" r="1.3"/><circle cx="577.4" cy="596.1" r="1.3"/><circle cx="579.9" cy="595.8" r="1.3"/><circle cx="571.8" cy="599.1" r="1.3"/><circle cx="574.3" cy="600.1" r="1.3"/><circle cx="576.8" cy="600.4" r="1.3"/><circle cx="579.9" cy="600.4" r="1.3"/><circle cx="582.6" cy="599.6" r="1.3"/><circle cx="571.8" cy="603.2" r="1.3"/><circle cx="574.3" cy="604.2" r="1.3"/><circle cx="577.2" cy="604.7" r="1.3"/><circle cx="580.2" cy="603.9" r="1.3"/><circle cx="579.4" cy="607.6" r="1.3"/><circle cx="574.8" cy="609" r="1.3"/><circle cx="577.6" cy="610" r="1.3"/><circle cx="577.6" cy="612.6" r="1.3"/><circle cx="577.6" cy="617.4" r="1.3"/><circle cx="577.6" cy="625.5" r="1.3"/><circle cx="574.3" cy="633.9" r="1.3"/><circle cx="577.6" cy="634.6" r="1.3"/><circle cx="577.6" cy="645.1" r="1.3"/><circle cx="577.6" cy="654.5" r="1.3"/><circle cx="574.3" cy="667.1" r="1.3"/><circle cx="577.6" cy="667.7" r="1.3"/></g>
<g fill="#1b7d33"><circle cx="631.9" cy="511.2" r="1.3"/><circle cx="634.7" cy="511.2" r="1.3"/><circle cx="637.5" cy="511.2" r="1.3"/><circle cx="640.3" cy="511.2" r="1.3"/><circle cx="643" cy="511.2" r="1.3"/><circle cx="637.7" cy="516.8" r="1.3"/><circle cx="636.2" cy="520.6" r="1.3"/><circle cx="638" cy="522.9" r="1.3"/><circle cx="635.2" cy="526.2" r="1.3"/><circle cx="638" cy="527.2" r="1.3"/><circle cx="632.9" cy="530.5" r="1.3"/><circle cx="635.4" cy="531.3" r="1.3"/><circle cx="638" cy="530.5" r="1.3"/><circle cx="642" cy="530.3" r="1.3"/><circle cx="644.8" cy="529.7" r="1.3"/><circle cx="635.2" cy="532.7" r="1.3"/><circle cx="637.7" cy="534.1" r="1.3"/><circle cx="640.3" cy="532.7" r="1.3"/><circle cx="634.9" cy="537.8" r="1.3"/><circle cx="638" cy="538.6" r="1.3"/><circle cx="637.7" cy="541.9" r="1.3"/><circle cx="634.9" cy="545.5" r="1.3"/><circle cx="637.2" cy="546.8" r="1.3"/><circle cx="639.5" cy="545.5" r="1.3"/><circle cx="642" cy="543.9" r="1.3"/><circle cx="634.9" cy="549.6" r="1.3"/><circle cx="637.7" cy="550" r="1.3"/><circle cx="640.3" cy="548.8" r="1.3"/><circle cx="643" cy="548.6" r="1.3"/><circle cx="634.9" cy="552.7" r="1.3"/><circle cx="637.7" cy="553.1" r="1.3"/><circle cx="640.3" cy="552.7" r="1.3"/><circle cx="637.7" cy="557.1" r="1.3"/><circle cx="637.7" cy="560" r="1.3"/><circle cx="634.9" cy="563.8" r="1.3"/><circle cx="637.7" cy="563.8" r="1.3"/><circle cx="637.7" cy="573" r="1.3"/><circle cx="635.9" cy="577.1" r="1.3"/><circle cx="637.7" cy="579.3" r="1.3"/><circle cx="635.4" cy="587.7" r="1.3"/><circle cx="637.7" cy="590" r="1.3"/><circle cx="630.1" cy="592.3" r="1.3"/><circle cx="632.9" cy="593" r="1.3"/><circle cx="637.7" cy="592.7" r="1.3"/><circle cx="635.2" cy="594.8" r="1.3"/><circle cx="637.7" cy="595.4" r="1.3"/><circle cx="640.3" cy="594.6" r="1.3"/><circle cx="643" cy="594.4" r="1.3"/><circle cx="637.7" cy="598.6" r="1.3"/><circle cx="634.9" cy="601.7" r="1.3"/><circle cx="637.7" cy="602.9" r="1.3"/><circle cx="640.3" cy="601.7" r="1.3"/><circle cx="643" cy="600.9" r="1.3"/><circle cx="635.4" cy="608.8" r="1.3"/><circle cx="637.7" cy="610.3" r="1.3"/><circle cx="640.3" cy="608.8" r="1.3"/><circle cx="642.5" cy="607.3" r="1.3"/><circle cx="637.7" cy="613.9" r="1.3"/><circle cx="635.4" cy="617.4" r="1.3"/><circle cx="637.7" cy="618.8" r="1.3"/><circle cx="634.2" cy="626.3" r="1.3"/><circle cx="636.6" cy="628.2" r="1.3"/><circle cx="639" cy="626.6" r="1.3"/><circle cx="637.7" cy="630.7" r="1.3"/><circle cx="637.7" cy="635.8" r="1.3"/><circle cx="637.7" cy="643.1" r="1.3"/><circle cx="637.7" cy="649.5" r="1.3"/><circle cx="637.7" cy="660.7" r="1.3"/><circle cx="637.7" cy="663.5" r="1.3"/><circle cx="637.7" cy="666.8" r="1.3"/><circle cx="637.7" cy="669.8" r="1.3"/></g>
</svg>
</body></html>
